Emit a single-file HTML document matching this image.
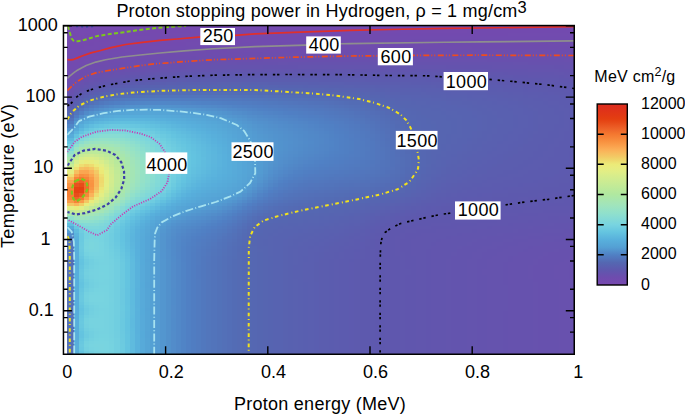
<!DOCTYPE html>
<html><head><meta charset="utf-8"><style>
html,body{margin:0;padding:0;background:#fff}
body{width:685px;height:414px;position:relative;overflow:hidden;font-family:"Liberation Sans",sans-serif}
#hm{position:absolute;left:67.3px;top:26px;width:507px;height:328px}
#hm i{position:absolute;top:0;height:100%;display:block}
svg{position:absolute;left:0;top:0}
text{font-family:"Liberation Sans",sans-serif;font-size:18px;fill:#000}
</style></head><body>
<div id="hm"><i style="left:0.00px;width:6.90px;background:linear-gradient(#7549af 0 6%,#7449af 0 7%,#744aaf 0 9%,#734aaf 0 11%,#724aaf 0 13%,#714baf 0 14%,#704bae 0 16%,#6f4cae 0 17%,#6d4dae 0 18%,#6b4eae 0 19%,#6950ae 0 20%,#6751ae 0 21%,#6453ae 0 22%,#6155ae 0 23%,#5e58ae 0 24%,#5b5caf 0 25%,#5861b0 0 26%,#5566b2 0 27%,#536cb5 0 28%,#5274bb 0 29%,#517cc1 0 30%,#5187c8 0 31%,#5395cf 0 32%,#55a3d5 0 33%,#57acda 0 34%,#5db8de 0 35%,#64c4e0 0 36%,#72cfe0 0 37%,#7fd7da 0 38%,#8edfce 0 39%,#9de3bf 0 40%,#a9e6ac 0 41%,#b5e99d 0 42%,#c5eb96 0 43%,#d5ed8d 0 44%,#e5ed82 0 45%,#eedd70 0 46%,#f6bf5f 0 47%,#faa550 0 48%,#f99241 0 49%,#f78638 0 50%,#f68035 0 51%,#f57f34 0 52%,#f78538 0 53%,#f99b48 0 54%,#f4c563 0 55%,#e4ee84 0 56%,#c2ea97 0 57%,#a7e6b0 0 58%,#90e0cc 0 59%,#78d4e0 0 60%,#61bfdf 0 61%,#57abda 0 62%,#549dd3 0 63%,#518bc9 0 64%,#507ec2 0 65%,#5276bc 0 66%,#5273ba 0 67%,#5272b9 0 68%,#5271b9 0 69%,#5371b9 0 70%,#536fb7 0 71%,#536db6 0 73%,#536fb7 0 74%,#5370b8 0 77%,#536fb7 0 78%,#536db6 0 79%,#536eb6 0 80%,#536fb7 0 81%,#5370b8 0 85%,#536eb7 0 86%,#536db6 0 87%,#536eb7 0 88%,#536fb8 0 89%,#5370b8 0 92%,#536fb7 0 93%,#536eb6 0 94%,#536db6 0 95%,#536fb7 0 96%,#5370b8 0 99%,#536db6 0)"></i><i style="left:6.30px;width:5.71px;background:linear-gradient(#7649b0 0 2%,#7549af 0 6%,#7449af 0 7%,#744aaf 0 9%,#734aaf 0 11%,#724aaf 0 12%,#714baf 0 13%,#704bae 0 14%,#6f4cae 0 15%,#6e4cae 0 16%,#6c4dae 0 17%,#6a4fae 0 18%,#6851ae 0 19%,#6553ae 0 20%,#6255ae 0 21%,#5f57ae 0 22%,#5c5baf 0 23%,#595fb0 0 24%,#5665b1 0 25%,#536cb5 0 26%,#5275bc 0 27%,#507ec3 0 28%,#518bc9 0 29%,#5398d0 0 30%,#55a3d5 0 31%,#57aad9 0 32%,#5bb4dd 0 33%,#63c2e0 0 34%,#71cee0 0 35%,#7fd7da 0 36%,#8cdecf 0 37%,#9ae3c2 0 38%,#a8e6ae 0 39%,#b7e99d 0 40%,#c7eb94 0 41%,#d7ed8c 0 42%,#e5ed82 0 43%,#eedf71 0 44%,#f5c060 0 45%,#faa34e 0 46%,#f78639 0 47%,#f06b2c 0 48%,#e9521e 0 49%,#e54413 0 50%,#e54312 0 51%,#e74d1a 0 52%,#ed6229 0 53%,#f68337 0 54%,#fab45a 0 55%,#e9eb7c 0 56%,#cbeb93 0 57%,#aee8a3 0 58%,#9ce3c0 0 59%,#89dcd2 0 60%,#78d4e0 0 61%,#68c7e0 0 62%,#5fbcde 0 63%,#5bb5dd 0 64%,#59b2dc 0 65%,#58afdc 0 66%,#58afdb 0 69%,#58aedb 0 70%,#57aedb 0 71%,#57addb 0 72%,#57adda 0 73%,#57addb 0 74%,#57aedb 0 77%,#57addb 0 80%,#57aedb 0 82%,#58aedb 0 84%,#57aedb 0 85%,#57addb 0 86%,#57adda 0 87%,#57addb 0 88%,#57aedb 0 89%,#58aedb 0 91%,#57aedb 0 93%,#57addb 0 95%,#57aedb 0 96%,#58aedb 0 97%,#58afdb 0 99%,#57adda 0)"></i><i style="left:11.41px;width:5.71px;background:linear-gradient(#7649b0 0 3%,#7549af 0 6%,#7449af 0 7%,#744aaf 0 8%,#734aaf 0 10%,#724aaf 0 11%,#714baf 0 12%,#704bae 0 13%,#6f4cae 0 14%,#6e4cae 0 15%,#6c4dae 0 16%,#6a4fae 0 17%,#6851ae 0 18%,#6553ae 0 19%,#6255ae 0 20%,#5e58ae 0 21%,#5c5caf 0 22%,#5960b0 0 23%,#5665b1 0 24%,#536db6 0 25%,#5276bd 0 26%,#5080c4 0 27%,#528ecb 0 28%,#549ed3 0 29%,#56a6d7 0 30%,#57aedb 0 31%,#5db8de 0 32%,#64c4e0 0 33%,#72cfe0 0 34%,#7fd8da 0 35%,#8ddecf 0 36%,#9ae3c2 0 37%,#a7e6b0 0 38%,#b4e99e 0 39%,#c6eb95 0 40%,#d7ed8c 0 41%,#e6ed81 0 42%,#eede71 0 43%,#f5c161 0 44%,#faa751 0 45%,#f88f3e 0 46%,#f47931 0 47%,#ec6128 0 48%,#e74d19 0 49%,#e44211 0 50%,#e54614 0 51%,#ea5923 0 52%,#f47830 0 53%,#f99c48 0 54%,#f1cd66 0 55%,#e1ee86 0 56%,#c4ea96 0 57%,#ace7a6 0 58%,#9ee3be 0 59%,#8fdfcd 0 60%,#81d9d8 0 61%,#77d3e0 0 62%,#6fcde0 0 63%,#6ccae0 0 64%,#6bcae0 0 66%,#6ccbe0 0 67%,#6dcbe0 0 68%,#6ccae0 0 69%,#6ac9e0 0 70%,#67c6e0 0 71%,#64c4e0 0 72%,#64c3e0 0 73%,#66c5e0 0 74%,#68c7e0 0 75%,#69c8e0 0 76%,#68c7e0 0 77%,#66c5e0 0 78%,#64c3e0 0 79%,#64c4e0 0 80%,#67c6e0 0 81%,#69c8e0 0 82%,#6ac9e0 0 84%,#68c7e0 0 85%,#65c5e0 0 86%,#63c3e0 0 87%,#65c4e0 0 88%,#67c7e0 0 89%,#69c8e0 0 90%,#6ac9e0 0 91%,#69c8e0 0 92%,#67c6e0 0 93%,#64c4e0 0 94%,#64c3e0 0 95%,#66c6e0 0 96%,#69c8e0 0 97%,#6bc9e0 0 98%,#69c8e0 0 99%,#64c4e0 0)"></i><i style="left:16.51px;width:5.71px;background:linear-gradient(#7649b0 0 2%,#7549af 0 6%,#744aaf 0 8%,#734aaf 0 9%,#724aaf 0 10%,#724baf 0 11%,#714baf 0 12%,#6f4bae 0 13%,#6e4cae 0 14%,#6c4dae 0 15%,#6a4fae 0 16%,#6850ae 0 17%,#6552ae 0 18%,#6355ae 0 19%,#5f57ae 0 20%,#5c5baf 0 21%,#595fb0 0 22%,#5664b1 0 23%,#536bb4 0 24%,#5274bb 0 25%,#507ec2 0 26%,#518bc9 0 27%,#5399d1 0 28%,#55a4d6 0 29%,#57adda 0 30%,#5cb7dd 0 31%,#63c2e0 0 32%,#6ecce0 0 33%,#7bd6dd 0 34%,#88dcd3 0 35%,#95e1c7 0 36%,#a2e4b9 0 37%,#ace7a6 0 38%,#bbe99a 0 39%,#cceb92 0 40%,#dded88 0 41%,#eaeb7c 0 42%,#efd46b 0 43%,#f7bb5e 0 44%,#faa650 0 45%,#f99341 0 46%,#f68437 0 47%,#f47830 0 48%,#f16f2d 0 49%,#f06d2c 0 50%,#f3762f 0 51%,#f78739 0 52%,#faa14d 0 53%,#f3c663 0 54%,#e8ec7d 0 55%,#d1ec8f 0 56%,#b9e99b 0 57%,#a8e6ae 0 58%,#9be3c1 0 59%,#8fe0cd 0 60%,#84dad6 0 61%,#7dd6dc 0 62%,#78d4e0 0 63%,#76d2e0 0 64%,#76d3e0 0 65%,#78d4e0 0 66%,#79d4df 0 67%,#79d5df 0 68%,#78d4e0 0 69%,#75d2e0 0 70%,#71cfe0 0 71%,#6ecce0 0 72%,#6dcbe0 0 73%,#6fcde0 0 74%,#72cfe0 0 75%,#73d0e0 0 76%,#72cfe0 0 77%,#6fcde0 0 78%,#6dcbe0 0 79%,#6ecce0 0 80%,#71cee0 0 81%,#74d1e0 0 82%,#75d2e0 0 83%,#75d1e0 0 84%,#72d0e0 0 85%,#6fcde0 0 86%,#6dcbe0 0 87%,#6ecce0 0 88%,#71cfe0 0 89%,#74d1e0 0 90%,#75d1e0 0 91%,#74d0e0 0 92%,#71cee0 0 93%,#6ecce0 0 94%,#6dcbe0 0 95%,#70cee0 0 96%,#74d1e0 0 97%,#75d2e0 0 98%,#74d0e0 0 99%,#6fcce0 0)"></i><i style="left:21.62px;width:5.71px;background:linear-gradient(#7649b0 0 2%,#7549af 0 5%,#7449af 0 6%,#744aaf 0 7%,#734aaf 0 9%,#724aaf 0 10%,#714baf 0 11%,#704bae 0 12%,#6f4cae 0 13%,#6d4dae 0 14%,#6b4eae 0 15%,#6950ae 0 16%,#6752ae 0 17%,#6454ae 0 18%,#6156ae 0 19%,#5e59ae 0 20%,#5b5daf 0 21%,#5862b1 0 22%,#5468b2 0 23%,#5370b8 0 24%,#517abf 0 25%,#5184c6 0 26%,#5292cd 0 27%,#54a0d4 0 28%,#56a9d8 0 29%,#59b1dc 0 30%,#60bddf 0 31%,#69c8e0 0 32%,#75d2e0 0 33%,#81d9d8 0 34%,#8ddfce 0 35%,#9ae2c2 0 36%,#a5e5b4 0 37%,#afe8a2 0 38%,#bdea99 0 39%,#cdec92 0 40%,#dced89 0 41%,#e8ec7e 0 42%,#eedc6f 0 43%,#f4c563 0 44%,#fab35a 0 45%,#faa54f 0 46%,#f99a47 0 47%,#f99442 0 48%,#f99241 0 49%,#f99644 0 50%,#faa14c 0 51%,#fab35a 0 52%,#f1ce67 0 53%,#eaeb7c 0 54%,#d8ed8b 0 55%,#c3ea97 0 56%,#afe8a1 0 57%,#a4e5b6 0 58%,#98e2c4 0 59%,#8edfce 0 60%,#85dad5 0 61%,#7ed7db 0 62%,#7ad5de 0 63%,#78d4e0 0 64%,#79d4df 0 65%,#7ad5de 0 66%,#7bd6dd 0 68%,#7ad5de 0 69%,#78d4e0 0 70%,#75d2e0 0 71%,#72cfe0 0 73%,#73d0e0 0 74%,#75d1e0 0 75%,#75d2e0 0 76%,#75d1e0 0 77%,#73d0e0 0 78%,#72cfe0 0 80%,#74d1e0 0 81%,#77d3e0 0 82%,#78d4e0 0 84%,#76d2e0 0 85%,#73d0e0 0 86%,#72cfe0 0 87%,#73d0e0 0 88%,#75d1e0 0 89%,#77d3e0 0 91%,#76d3e0 0 92%,#74d1e0 0 93%,#72cfe0 0 95%,#74d1e0 0 96%,#77d3e0 0 97%,#78d4e0 0 98%,#77d3e0 0 99%,#73d0e0 0)"></i><i style="left:26.72px;width:5.71px;background:linear-gradient(#7649b0 0 2%,#7549af 0 5%,#744aaf 0 7%,#734aaf 0 8%,#724aaf 0 9%,#724baf 0 10%,#704bae 0 11%,#6f4bae 0 12%,#6e4cae 0 13%,#6c4dae 0 14%,#6a4fae 0 15%,#6851ae 0 16%,#6552ae 0 17%,#6355ae 0 18%,#5f57ae 0 19%,#5c5baf 0 20%,#595fb0 0 21%,#5664b1 0 22%,#536bb4 0 23%,#5274bb 0 24%,#507ec2 0 25%,#518ac9 0 26%,#5398d0 0 27%,#55a3d6 0 28%,#57acda 0 29%,#5cb6dd 0 30%,#63c2e0 0 31%,#6ecce0 0 32%,#7bd5de 0 33%,#85dbd5 0 34%,#91e0cb 0 35%,#9ce3c0 0 36%,#a6e6b1 0 37%,#afe8a1 0 38%,#bcea9a 0 39%,#caeb93 0 40%,#d7ed8c 0 41%,#e4ee84 0 42%,#ebeb7a 0 43%,#eeda6e 0 44%,#f2ca65 0 45%,#f6bf60 0 46%,#f8b85c 0 47%,#f9b55a 0 48%,#f9b65b 0 49%,#f7bd5f 0 50%,#f2ca65 0 51%,#eedd70 0 52%,#e8ec7f 0 53%,#daed8a 0 54%,#c8eb94 0 55%,#b7e99c 0 56%,#aae6ab 0 57%,#9fe4bd 0 58%,#94e1c8 0 59%,#8bded0 0 60%,#84dad6 0 61%,#7ed7db 0 62%,#7ad5de 0 63%,#78d4e0 0 65%,#79d5df 0 66%,#7ad5de 0 68%,#7ad5df 0 69%,#79d4e0 0 70%,#77d3e0 0 71%,#75d2e0 0 72%,#74d1e0 0 73%,#75d2e0 0 74%,#76d2e0 0 77%,#75d2e0 0 78%,#74d1e0 0 79%,#75d1e0 0 80%,#76d3e0 0 81%,#77d4e0 0 82%,#78d4e0 0 84%,#77d3e0 0 85%,#75d2e0 0 86%,#75d1e0 0 87%,#75d2e0 0 88%,#76d2e0 0 89%,#77d3e0 0 92%,#76d2e0 0 93%,#75d1e0 0 94%,#75d2e0 0 95%,#76d3e0 0 96%,#78d4e0 0 97%,#79d4df 0 98%,#78d4e0 0 99%,#76d2e0 0)"></i><i style="left:31.83px;width:5.71px;background:linear-gradient(#7649b0 0 1%,#7549af 0 4%,#7449af 0 5%,#744aaf 0 6%,#734aaf 0 8%,#724aaf 0 9%,#714baf 0 10%,#704bae 0 11%,#6f4cae 0 12%,#6e4cae 0 13%,#6c4eae 0 14%,#694fae 0 15%,#6751ae 0 16%,#6453ae 0 17%,#6155ae 0 18%,#5e58ae 0 19%,#5b5caf 0 20%,#5861b0 0 21%,#5567b2 0 22%,#536fb7 0 23%,#5178be 0 24%,#5082c5 0 25%,#528fcb 0 26%,#549dd3 0 27%,#56a6d7 0 28%,#58afdb 0 29%,#5eb9de 0 30%,#65c5e0 0 31%,#72cfe0 0 32%,#7dd7dc 0 33%,#88dcd3 0 34%,#93e1c9 0 35%,#9de3bf 0 36%,#a6e5b2 0 37%,#aee7a4 0 38%,#b9e99c 0 39%,#c4eb96 0 40%,#cfec90 0 41%,#daed8a 0 42%,#e3ee84 0 43%,#e9ec7d 0 44%,#ece977 0 45%,#eedf71 0 46%,#eeda6e 0 47%,#efd96d 0 48%,#eedc70 0 49%,#ede575 0 50%,#e9eb7c 0 51%,#e3ee84 0 52%,#d7ed8c 0 53%,#caeb93 0 54%,#bbe99a 0 55%,#ade7a4 0 56%,#a4e5b6 0 57%,#99e2c3 0 58%,#90e0cc 0 59%,#87dcd3 0 60%,#81d8d9 0 61%,#7cd6dc 0 62%,#79d5df 0 63%,#77d3e0 0 66%,#78d4e0 0 70%,#77d3e0 0 71%,#76d3e0 0 72%,#76d2e0 0 73%,#76d3e0 0 75%,#77d3e0 0 76%,#76d3e0 0 78%,#76d2e0 0 79%,#76d3e0 0 80%,#77d3e0 0 81%,#77d4e0 0 82%,#78d4e0 0 84%,#77d3e0 0 86%,#76d2e0 0 87%,#76d3e0 0 88%,#77d3e0 0 92%,#76d3e0 0 93%,#76d2e0 0 94%,#76d3e0 0 95%,#77d4e0 0 96%,#78d4e0 0 97%,#79d4df 0 99%,#77d3e0 0)"></i><i style="left:36.94px;width:5.71px;background:linear-gradient(#7649b0 0 1%,#7549af 0 4%,#7449af 0 5%,#744aaf 0 6%,#734aaf 0 8%,#724baf 0 9%,#714baf 0 10%,#704bae 0 11%,#6f4cae 0 12%,#6d4dae 0 13%,#6b4eae 0 14%,#6950ae 0 15%,#6652ae 0 16%,#6354ae 0 17%,#6056ae 0 18%,#5d5aae 0 19%,#5a5eb0 0 20%,#5763b1 0 21%,#5469b3 0 22%,#5272b9 0 23%,#517bc0 0 24%,#5186c7 0 25%,#5293ce 0 26%,#54a1d4 0 27%,#56a9d8 0 28%,#59b1dc 0 29%,#5fbcde 0 30%,#68c7e0 0 31%,#74d1e0 0 32%,#7fd7da 0 33%,#89dcd2 0 34%,#93e1c9 0 35%,#9ce3c0 0 36%,#a4e5b4 0 37%,#ace7a8 0 38%,#b4e89e 0 39%,#bdea99 0 40%,#c6eb95 0 41%,#ceec91 0 42%,#d6ed8c 0 43%,#dced89 0 44%,#e1ee86 0 45%,#e4ee83 0 46%,#e5ed82 0 48%,#e4ee84 0 49%,#e0ee86 0 50%,#daed8a 0 51%,#d1ec8f 0 52%,#c7eb95 0 53%,#bbe99a 0 54%,#afe8a1 0 55%,#a6e5b2 0 56%,#9ce3c0 0 57%,#92e1ca 0 58%,#89ddd2 0 59%,#82d9d8 0 60%,#7dd6dc 0 61%,#79d5df 0 62%,#76d3e0 0 63%,#74d1e0 0 64%,#74d0e0 0 66%,#74d1e0 0 67%,#75d1e0 0 68%,#75d2e0 0 69%,#76d2e0 0 73%,#76d3e0 0 77%,#76d2e0 0 79%,#76d3e0 0 81%,#77d3e0 0 85%,#76d3e0 0 86%,#76d2e0 0 94%,#76d3e0 0 95%,#77d3e0 0 96%,#78d4e0 0 99%,#77d3e0 0)"></i><i style="left:42.04px;width:5.71px;background:linear-gradient(#7649b0 0 1%,#7549af 0 4%,#744aaf 0 6%,#734aaf 0 7%,#724aaf 0 8%,#714baf 0 9%,#704bae 0 10%,#6f4bae 0 11%,#6e4cae 0 12%,#6d4dae 0 13%,#6b4fae 0 14%,#6850ae 0 15%,#6652ae 0 16%,#6255ae 0 17%,#5f57ae 0 18%,#5c5baf 0 19%,#5960b0 0 20%,#5665b1 0 21%,#536bb5 0 22%,#5274bb 0 23%,#507dc2 0 24%,#5189c9 0 25%,#5397cf 0 26%,#55a3d5 0 27%,#57aad9 0 28%,#5ab3dd 0 29%,#61bedf 0 30%,#6ac9e0 0 31%,#75d2e0 0 32%,#7fd8da 0 33%,#89dcd2 0 34%,#92e0ca 0 35%,#9ae3c2 0 36%,#a2e5b8 0 37%,#a8e6ad 0 38%,#aee8a3 0 39%,#b5e99d 0 40%,#bdea9a 0 41%,#c3ea97 0 42%,#c8eb94 0 43%,#cdec92 0 44%,#d0ec90 0 45%,#d3ec8e 0 46%,#d4ec8e 0 47%,#d3ec8e 0 48%,#d1ec8f 0 49%,#cdec91 0 50%,#c8eb94 0 51%,#c0ea98 0 52%,#b7e99c 0 53%,#aee7a4 0 54%,#a5e5b2 0 55%,#9de3bf 0 56%,#93e1c9 0 57%,#89ddd1 0 58%,#81d9d8 0 59%,#7bd6dd 0 60%,#76d3e0 0 61%,#73d0e0 0 62%,#71cee0 0 63%,#6fcde0 0 66%,#70cde0 0 67%,#70cee0 0 68%,#71cfe0 0 69%,#72d0e0 0 70%,#73d0e0 0 71%,#74d1e0 0 73%,#75d1e0 0 77%,#74d1e0 0 83%,#75d1e0 0 84%,#74d1e0 0 94%,#75d1e0 0 95%,#75d2e0 0 96%,#76d2e0 0 97%,#76d3e0 0 99%,#75d2e0 0)"></i><i style="left:47.15px;width:5.71px;background:linear-gradient(#7649b0 0 1%,#7549af 0 3%,#7449af 0 4%,#744aaf 0 5%,#734aaf 0 7%,#724aaf 0 8%,#714baf 0 9%,#704bae 0 10%,#6f4cae 0 11%,#6e4cae 0 12%,#6c4dae 0 13%,#6a4fae 0 14%,#6851ae 0 15%,#6553ae 0 16%,#6255ae 0 17%,#5e58ae 0 18%,#5b5caf 0 19%,#5861b0 0 20%,#5566b2 0 21%,#536eb6 0 22%,#5276bd 0 23%,#507fc4 0 24%,#528cca 0 25%,#539ad1 0 26%,#55a4d6 0 27%,#57acda 0 28%,#5bb5dd 0 29%,#61bfdf 0 30%,#6ac9e0 0 31%,#75d2e0 0 32%,#7fd7da 0 33%,#88dcd3 0 34%,#90e0cc 0 35%,#98e2c4 0 36%,#9fe4bd 0 37%,#a5e5b4 0 38%,#aae6ab 0 39%,#aee8a3 0 40%,#b3e89f 0 41%,#b8e99c 0 42%,#bce99a 0 43%,#bfea99 0 44%,#c1ea97 0 45%,#c3ea97 0 47%,#c2ea97 0 48%,#c0ea98 0 49%,#bcea9a 0 50%,#b7e99c 0 51%,#b0e8a0 0 52%,#aae7aa 0 53%,#a3e5b6 0 54%,#9be3c1 0 55%,#92e0ca 0 56%,#88dcd2 0 57%,#80d8d9 0 58%,#7ad5df 0 59%,#73d0e0 0 60%,#6fcde0 0 61%,#6ccae0 0 62%,#6ac9e0 0 63%,#69c8e0 0 66%,#6ac9e0 0 67%,#6bcae0 0 68%,#6dcbe0 0 69%,#6ecce0 0 70%,#6fcde0 0 71%,#70cee0 0 72%,#71cee0 0 88%,#70cee0 0 93%,#71cee0 0 95%,#72cfe0 0 99%,#71cfe0 0)"></i><i style="left:52.26px;width:5.71px;background:linear-gradient(#7549af 0 3%,#7449af 0 4%,#744aaf 0 5%,#734aaf 0 7%,#724aaf 0 8%,#714baf 0 9%,#704bae 0 10%,#6f4cae 0 11%,#6e4cae 0 12%,#6c4eae 0 13%,#694fae 0 14%,#6751ae 0 15%,#6454ae 0 16%,#6156ae 0 17%,#5d59ae 0 18%,#5b5daf 0 19%,#5862b1 0 20%,#5467b2 0 21%,#536fb7 0 22%,#5178be 0 23%,#5081c5 0 24%,#528ecb 0 25%,#539cd2 0 26%,#55a5d7 0 27%,#57adda 0 28%,#5bb6dd 0 29%,#62c0df 0 30%,#6ac9e0 0 31%,#75d1e0 0 32%,#7ed7db 0 33%,#86dbd5 0 34%,#8ddfce 0 35%,#94e1c8 0 36%,#9be3c1 0 37%,#a0e4bb 0 38%,#a5e5b4 0 39%,#a8e6ad 0 40%,#abe7a8 0 41%,#aee8a3 0 42%,#b0e8a0 0 43%,#b2e89f 0 44%,#b4e89e 0 45%,#b4e99e 0 47%,#b3e89e 0 48%,#b1e8a0 0 49%,#aee7a4 0 50%,#aae7aa 0 51%,#a5e5b2 0 52%,#a0e4bc 0 53%,#98e2c4 0 54%,#90e0cc 0 55%,#87dbd4 0 56%,#7fd7da 0 57%,#78d4e0 0 58%,#71cee0 0 59%,#6ccae0 0 60%,#68c7e0 0 61%,#65c5e0 0 62%,#64c4e0 0 63%,#63c3e0 0 66%,#64c4e0 0 67%,#65c5e0 0 68%,#66c6e0 0 69%,#68c7e0 0 70%,#69c8e0 0 71%,#6ac9e0 0 72%,#6bcae0 0 80%,#6bc9e0 0 85%,#6bcae0 0 87%,#6bc9e0 0 89%,#6ac9e0 0 93%,#6bc9e0 0 94%,#6bcae0 0 95%,#6ccae0 0 97%,#6ccbe0 0 99%,#6ccae0 0)"></i><i style="left:57.36px;width:5.71px;background:linear-gradient(#7549af 0 3%,#744aaf 0 5%,#734aaf 0 6%,#724aaf 0 7%,#724baf 0 8%,#714baf 0 9%,#704bae 0 10%,#6f4cae 0 11%,#6d4dae 0 12%,#6b4eae 0 13%,#6950ae 0 14%,#6652ae 0 15%,#6354ae 0 16%,#6057ae 0 17%,#5d5aaf 0 18%,#5a5eb0 0 19%,#5763b1 0 20%,#5468b2 0 21%,#5370b8 0 22%,#5179bf 0 23%,#5083c6 0 24%,#5290cc 0 25%,#549dd3 0 26%,#55a6d7 0 27%,#57addb 0 28%,#5cb6dd 0 29%,#61c0df 0 30%,#6ac8e0 0 31%,#73d0e0 0 32%,#7cd6dd 0 33%,#83dad7 0 34%,#8addd1 0 35%,#91e0cb 0 36%,#96e2c6 0 37%,#9be3c1 0 38%,#a0e4bc 0 39%,#a3e5b7 0 40%,#a5e5b2 0 41%,#a8e6af 0 42%,#a9e6ac 0 43%,#aae7aa 0 44%,#abe7a9 0 46%,#aae7aa 0 47%,#a9e6ac 0 48%,#a7e6af 0 49%,#a5e5b4 0 50%,#a1e4ba 0 51%,#9be3c1 0 52%,#95e1c7 0 53%,#8ddfce 0 54%,#85dbd5 0 55%,#7dd7db 0 56%,#76d3e0 0 57%,#6fcde0 0 58%,#69c8e0 0 59%,#65c4e0 0 60%,#62c1df 0 61%,#61bfdf 0 62%,#60bddf 0 63%,#5fbcde 0 66%,#60bddf 0 67%,#60bedf 0 68%,#61bfdf 0 69%,#62c1df 0 70%,#63c2e0 0 71%,#64c3e0 0 72%,#64c4e0 0 80%,#64c3e0 0 85%,#64c4e0 0 87%,#64c3e0 0 89%,#63c3e0 0 93%,#64c3e0 0 94%,#64c4e0 0 97%,#65c4e0 0 98%,#64c4e0 0)"></i><i style="left:62.47px;width:5.71px;background:linear-gradient(#7549af 0 3%,#744aaf 0 5%,#734aaf 0 6%,#724aaf 0 7%,#714baf 0 9%,#704bae 0 10%,#6e4cae 0 11%,#6d4dae 0 12%,#6b4fae 0 13%,#6850ae 0 14%,#6553ae 0 15%,#6255ae 0 16%,#5f58ae 0 17%,#5c5baf 0 18%,#595fb0 0 19%,#5764b1 0 20%,#5469b3 0 21%,#5271b9 0 22%,#517ac0 0 23%,#5184c6 0 24%,#5291cd 0 25%,#549fd3 0 26%,#56a6d7 0 27%,#57addb 0 28%,#5cb6dd 0 29%,#61bfdf 0 30%,#68c7e0 0 31%,#71cfe0 0 32%,#7ad5df 0 33%,#80d8d9 0 34%,#87dbd4 0 35%,#8ddecf 0 36%,#92e0ca 0 37%,#96e2c6 0 38%,#9ae3c2 0 39%,#9de3bf 0 40%,#a0e4bc 0 41%,#a2e4b9 0 42%,#a3e5b7 0 43%,#a4e5b5 0 46%,#a3e5b6 0 47%,#a2e5b8 0 48%,#a0e4bc 0 49%,#9de3bf 0 50%,#98e2c4 0 51%,#92e1ca 0 52%,#8cded0 0 53%,#84dad6 0 54%,#7dd6dc 0 55%,#75d2e0 0 56%,#6ecce0 0 57%,#68c7e0 0 58%,#63c2e0 0 59%,#60bedf 0 60%,#5ebbde 0 61%,#5db8de 0 62%,#5cb7dd 0 63%,#5bb6dd 0 64%,#5bb5dd 0 66%,#5cb6dd 0 67%,#5cb7dd 0 68%,#5db8de 0 69%,#5db9de 0 70%,#5ebade 0 71%,#5ebbde 0 72%,#5fbbde 0 80%,#5ebbde 0 85%,#5fbbde 0 88%,#5ebbde 0 89%,#5ebade 0 92%,#5ebbde 0 93%,#5fbbde 0)"></i><i style="left:67.57px;width:5.71px;background:linear-gradient(#7549af 0 2%,#7449af 0 3%,#744aaf 0 4%,#734aaf 0 6%,#724aaf 0 7%,#714baf 0 8%,#704bae 0 9%,#6f4bae 0 10%,#6e4cae 0 11%,#6c4dae 0 12%,#6a4fae 0 13%,#6851ae 0 14%,#6553ae 0 15%,#6155ae 0 16%,#5e58ae 0 17%,#5c5caf 0 18%,#5960b0 0 19%,#5665b1 0 20%,#546ab4 0 21%,#5272ba 0 22%,#517bc0 0 23%,#5185c7 0 24%,#5292cd 0 25%,#549fd4 0 26%,#56a6d7 0 27%,#57addb 0 28%,#5bb5dd 0 29%,#60bedf 0 30%,#67c6e0 0 31%,#6fcde0 0 32%,#77d3e0 0 33%,#7dd7db 0 34%,#83dad7 0 35%,#88dcd2 0 36%,#8ddfce 0 37%,#91e0cb 0 38%,#95e1c7 0 39%,#97e2c5 0 40%,#9ae2c2 0 41%,#9ce3c0 0 42%,#9de3bf 0 43%,#9ee3be 0 44%,#9ee4be 0 45%,#9ee3be 0 46%,#9de3bf 0 47%,#9be3c1 0 48%,#99e2c3 0 49%,#95e1c7 0 50%,#91e0cb 0 51%,#8bded0 0 52%,#85dad5 0 53%,#7ed7db 0 54%,#77d3e0 0 55%,#6fcde0 0 56%,#68c7e0 0 57%,#62c1df 0 58%,#5fbcde 0 59%,#5db8de 0 60%,#5bb5dd 0 61%,#59b2dc 0 62%,#58b0dc 0 63%,#58afdc 0 65%,#58afdb 0 66%,#58afdc 0 68%,#58b0dc 0 70%,#58b1dc 0 71%,#59b1dc 0 72%,#59b2dc 0 80%,#59b1dc 0 86%,#59b2dc 0 87%,#59b1dc 0 94%,#59b2dc 0)"></i><i style="left:72.68px;width:5.71px;background:linear-gradient(#7549af 0 2%,#7449af 0 3%,#744aaf 0 4%,#734aaf 0 6%,#724aaf 0 7%,#714baf 0 8%,#704bae 0 9%,#6f4cae 0 10%,#6e4cae 0 11%,#6c4eae 0 12%,#6a4fae 0 13%,#6751ae 0 14%,#6453ae 0 15%,#6156ae 0 16%,#5e59ae 0 17%,#5b5caf 0 18%,#5961b0 0 19%,#5665b1 0 20%,#536bb4 0 21%,#5273ba 0 22%,#517cc1 0 23%,#5186c7 0 24%,#5293cd 0 25%,#54a0d4 0 26%,#56a6d7 0 27%,#57addb 0 28%,#5bb5dd 0 29%,#60bddf 0 30%,#65c5e0 0 31%,#6dcbe0 0 32%,#74d1e0 0 33%,#7bd5de 0 34%,#80d8da 0 35%,#84dad6 0 36%,#88dcd2 0 37%,#8cdecf 0 38%,#8fe0cd 0 39%,#92e0ca 0 40%,#94e1c8 0 41%,#95e1c7 0 42%,#97e2c5 0 44%,#98e2c4 0 45%,#97e2c5 0 46%,#96e2c6 0 47%,#95e1c7 0 48%,#92e1ca 0 49%,#8fe0cd 0 50%,#8bddd0 0 51%,#86dbd5 0 52%,#80d8da 0 53%,#79d5df 0 54%,#71cfe0 0 55%,#69c8e0 0 56%,#63c2e0 0 57%,#5fbcde 0 58%,#5cb6dd 0 59%,#59b2dc 0 60%,#58afdb 0 61%,#57adda 0 62%,#57abda 0 63%,#57abd9 0 64%,#57aad9 0 65%,#56aad9 0 73%,#57aad9 0 78%,#56aad9 0 80%,#57aad9 0 86%,#56aad9 0 88%,#57aad9 0 93%,#56aad9 0 95%,#57aad9 0 99%,#56aad9 0)"></i><i style="left:77.79px;width:5.71px;background:linear-gradient(#7549af 0 2%,#7449af 0 3%,#744aaf 0 4%,#734aaf 0 6%,#724aaf 0 7%,#714baf 0 8%,#704bae 0 9%,#6f4cae 0 10%,#6e4cae 0 11%,#6b4eae 0 12%,#6950ae 0 13%,#6652ae 0 14%,#6454ae 0 15%,#6056ae 0 16%,#5d59ae 0 17%,#5b5daf 0 18%,#5861b0 0 19%,#5566b1 0 20%,#536cb5 0 21%,#5274bb 0 22%,#517cc1 0 23%,#5187c7 0 24%,#5293ce 0 25%,#54a0d4 0 26%,#56a6d7 0 27%,#57adda 0 28%,#5ab4dd 0 29%,#5fbcde 0 30%,#63c3e0 0 31%,#6ac9e0 0 32%,#71cfe0 0 33%,#78d4e0 0 34%,#7cd6dd 0 35%,#80d8d9 0 36%,#84dad6 0 37%,#87dbd4 0 38%,#8addd1 0 39%,#8cdecf 0 40%,#8edfce 0 41%,#8fe0cc 0 42%,#91e0cb 0 44%,#92e0ca 0 45%,#91e0cb 0 47%,#8fe0cd 0 48%,#8ddecf 0 49%,#89ddd1 0 50%,#85dbd5 0 51%,#81d8d9 0 52%,#7bd6dd 0 53%,#74d1e0 0 54%,#6ccae0 0 55%,#64c4e0 0 56%,#60bddf 0 57%,#5cb6dd 0 58%,#58b1dc 0 59%,#57adda 0 60%,#57aad9 0 61%,#56a8d8 0 62%,#56a7d7 0 63%,#55a6d7 0 64%,#55a5d7 0 68%,#55a5d6 0 71%,#55a4d6 0 72%,#55a5d6 0 78%,#55a4d6 0 80%,#55a5d6 0 86%,#55a4d6 0 87%,#55a5d6 0 93%,#55a4d6 0 95%,#55a5d6 0 99%,#55a4d6 0)"></i><i style="left:82.89px;width:5.71px;background:linear-gradient(#7549af 0 2%,#744aaf 0 4%,#734aaf 0 5%,#724aaf 0 6%,#724baf 0 7%,#714baf 0 8%,#704bae 0 9%,#6f4cae 0 10%,#6d4dae 0 11%,#6b4eae 0 12%,#6950ae 0 13%,#6652ae 0 14%,#6354ae 0 15%,#6057ae 0 16%,#5d5aae 0 17%,#5b5daf 0 18%,#5862b0 0 19%,#5566b2 0 20%,#536cb5 0 21%,#5274bb 0 22%,#517dc1 0 23%,#5187c8 0 24%,#5293ce 0 25%,#549fd4 0 26%,#55a6d7 0 27%,#57acda 0 28%,#5ab3dd 0 29%,#5ebade 0 30%,#62c1df 0 31%,#68c7e0 0 32%,#6ecce0 0 33%,#74d0e0 0 34%,#78d4e0 0 35%,#7cd6dd 0 36%,#7fd7da 0 37%,#82d9d8 0 38%,#84dad6 0 39%,#86dbd4 0 40%,#88dcd3 0 41%,#89ddd2 0 42%,#8addd1 0 43%,#8bddd0 0 44%,#8bded0 0 46%,#8addd1 0 47%,#89ddd2 0 48%,#87dbd4 0 49%,#84dad6 0 50%,#80d8d9 0 51%,#7bd6dd 0 52%,#75d2e0 0 53%,#6ecce0 0 54%,#66c5e0 0 55%,#60bedf 0 56%,#5cb7dd 0 57%,#58b0dc 0 58%,#57acda 0 59%,#56a8d8 0 60%,#55a6d7 0 61%,#55a4d6 0 62%,#55a2d5 0 63%,#54a2d5 0 64%,#54a1d5 0 68%,#54a1d4 0)"></i><i style="left:88.00px;width:5.71px;background:linear-gradient(#7549af 0 2%,#744aaf 0 4%,#734aaf 0 5%,#724aaf 0 6%,#724baf 0 7%,#714baf 0 8%,#704bae 0 9%,#6f4cae 0 10%,#6d4dae 0 11%,#6b4eae 0 12%,#6850ae 0 13%,#6652ae 0 14%,#6355ae 0 15%,#5f57ae 0 16%,#5d5aaf 0 17%,#5a5eaf 0 18%,#5862b0 0 19%,#5566b2 0 20%,#536db6 0 21%,#5275bc 0 22%,#517dc2 0 23%,#5187c8 0 24%,#5293ce 0 25%,#549fd4 0 26%,#55a5d7 0 27%,#57abda 0 28%,#59b1dc 0 29%,#5db8de 0 30%,#61bfdf 0 31%,#65c5e0 0 32%,#6ac9e0 0 33%,#6fcde0 0 34%,#74d1e0 0 35%,#78d4e0 0 36%,#7ad5de 0 37%,#7dd6dc 0 38%,#7fd7db 0 39%,#80d8d9 0 40%,#82d9d8 0 41%,#83d9d7 0 42%,#84dad6 0 43%,#85dad6 0 44%,#85dad5 0 46%,#84dad6 0 47%,#83dad7 0 48%,#81d9d8 0 49%,#7ed7db 0 50%,#7bd5de 0 51%,#75d2e0 0 52%,#6ecce0 0 53%,#67c6e0 0 54%,#61bfdf 0 55%,#5db8de 0 56%,#59b1dc 0 57%,#57acda 0 58%,#56a7d8 0 59%,#55a4d6 0 60%,#54a1d5 0 61%,#549fd4 0 62%,#549dd2 0 63%,#539cd2 0 64%,#539bd2 0 65%,#539bd1 0 68%,#539bd2 0)"></i><i style="left:93.10px;width:5.71px;background:linear-gradient(#7549af 0 2%,#744aaf 0 3%,#734aaf 0 5%,#724aaf 0 6%,#714baf 0 8%,#704bae 0 9%,#6e4cae 0 10%,#6d4dae 0 11%,#6a4fae 0 12%,#6851ae 0 13%,#6553ae 0 14%,#6255ae 0 15%,#5f57ae 0 16%,#5d5aaf 0 17%,#5a5eb0 0 18%,#5862b1 0 19%,#5567b2 0 20%,#536db6 0 21%,#5275bc 0 22%,#517dc2 0 23%,#5187c8 0 24%,#5293cd 0 25%,#549ed3 0 26%,#55a5d6 0 27%,#57aad9 0 28%,#58b0dc 0 29%,#5cb6dd 0 30%,#5fbcde 0 31%,#63c2e0 0 32%,#67c6e0 0 33%,#6bcae0 0 34%,#6fcde0 0 35%,#73d0e0 0 36%,#76d2e0 0 37%,#78d4e0 0 38%,#7ad5df 0 39%,#7bd5de 0 40%,#7cd6dd 0 41%,#7dd7dc 0 42%,#7ed7db 0 44%,#7fd7da 0 45%,#7fd7db 0 46%,#7ed7db 0 47%,#7dd6dc 0 48%,#7bd6dd 0 49%,#78d4e0 0 50%,#74d1e0 0 51%,#6ecce0 0 52%,#67c7e0 0 53%,#62c0df 0 54%,#5db9de 0 55%,#59b2dc 0 56%,#57acda 0 57%,#56a8d8 0 58%,#55a4d6 0 59%,#54a0d4 0 60%,#549cd2 0 61%,#5399d0 0 62%,#5397cf 0 63%,#5395cf 0 64%,#5395ce 0 69%,#5395cf 0 71%,#5396cf 0)"></i><i style="left:98.21px;width:5.71px;background:linear-gradient(#7549af 0 1%,#7449af 0 2%,#744aaf 0 3%,#734aaf 0 5%,#724aaf 0 6%,#714baf 0 7%,#704bae 0 8%,#6f4bae 0 9%,#6e4cae 0 10%,#6c4dae 0 11%,#6a4fae 0 12%,#6851ae 0 13%,#6553ae 0 14%,#6255ae 0 15%,#5f57ae 0 16%,#5c5baf 0 17%,#5a5fb0 0 18%,#5763b1 0 19%,#5567b2 0 20%,#536eb6 0 21%,#5275bc 0 22%,#517dc2 0 23%,#5187c7 0 24%,#5292cd 0 25%,#549dd2 0 26%,#55a4d6 0 27%,#56a9d9 0 28%,#58aedb 0 29%,#5ab4dd 0 30%,#5ebade 0 31%,#61bfdf 0 32%,#64c4e0 0 33%,#68c7e0 0 34%,#6bcae0 0 35%,#6ecce0 0 36%,#71cee0 0 37%,#73d0e0 0 38%,#75d1e0 0 39%,#76d2e0 0 40%,#77d3e0 0 41%,#78d4e0 0 42%,#79d4df 0 45%,#79d4e0 0 46%,#78d4e0 0 47%,#76d3e0 0 48%,#74d1e0 0 49%,#70cee0 0 50%,#6ccae0 0 51%,#66c6e0 0 52%,#62c0df 0 53%,#5eb9de 0 54%,#5ab3dd 0 55%,#57addb 0 56%,#56a9d8 0 57%,#55a4d6 0 58%,#54a1d4 0 59%,#539cd2 0 60%,#5397d0 0 61%,#5394ce 0 62%,#5292cd 0 63%,#5291cc 0 64%,#5290cc 0 65%,#528fcc 0 68%,#5290cc 0 71%,#5291cc 0)"></i><i style="left:103.32px;width:5.71px;background:linear-gradient(#7549af 0 1%,#7449af 0 2%,#744aaf 0 3%,#734aaf 0 5%,#724aaf 0 6%,#714baf 0 7%,#704bae 0 8%,#6f4bae 0 9%,#6e4cae 0 10%,#6c4dae 0 11%,#6a4fae 0 12%,#6751ae 0 13%,#6553ae 0 14%,#6255ae 0 15%,#5e58ae 0 16%,#5c5baf 0 17%,#5a5fb0 0 18%,#5763b1 0 19%,#5567b2 0 20%,#536eb6 0 21%,#5275bc 0 22%,#517dc2 0 23%,#5186c7 0 24%,#5291cc 0 25%,#539cd2 0 26%,#55a3d6 0 27%,#56a8d8 0 28%,#57addb 0 29%,#59b2dc 0 30%,#5cb7dd 0 31%,#5fbcde 0 32%,#62c1df 0 33%,#64c4e0 0 34%,#68c7e0 0 35%,#6bc9e0 0 36%,#6dcbe0 0 37%,#6fcde0 0 38%,#70cee0 0 39%,#71cfe0 0 40%,#72cfe0 0 41%,#73d0e0 0 45%,#72cfe0 0 46%,#71cee0 0 47%,#6fcde0 0 48%,#6ccbe0 0 49%,#69c8e0 0 50%,#64c4e0 0 51%,#61bfdf 0 52%,#5eb9de 0 53%,#5ab4dd 0 54%,#58aedb 0 55%,#56aad9 0 56%,#55a5d7 0 57%,#54a1d5 0 58%,#549dd2 0 59%,#5397d0 0 60%,#5293ce 0 61%,#5290cc 0 62%,#528ecb 0 63%,#528dca 0 64%,#518cca 0 65%,#518bca 0 66%,#518bc9 0 68%,#518bca 0 70%,#518cca 0 72%,#528cca 0 80%,#518cca 0 85%,#528cca 0 89%,#518cca 0 93%,#528cca 0)"></i><i style="left:108.42px;width:5.71px;background:linear-gradient(#7549af 0 1%,#7449af 0 2%,#744aaf 0 3%,#734aaf 0 5%,#724aaf 0 6%,#714baf 0 7%,#704bae 0 8%,#6f4cae 0 9%,#6e4cae 0 10%,#6c4eae 0 11%,#6a4fae 0 12%,#6751ae 0 13%,#6453ae 0 14%,#6156ae 0 15%,#5e58ae 0 16%,#5c5caf 0 17%,#595fb0 0 18%,#5763b1 0 19%,#5467b2 0 20%,#536eb6 0 21%,#5275bc 0 22%,#517dc1 0 23%,#5186c7 0 24%,#5290cc 0 25%,#539bd1 0 26%,#55a2d5 0 27%,#56a7d8 0 28%,#57acda 0 29%,#58b0dc 0 30%,#5bb5dd 0 31%,#5ebade 0 32%,#60bedf 0 33%,#62c1df 0 34%,#65c4e0 0 35%,#67c6e0 0 36%,#69c8e0 0 37%,#6bcae0 0 38%,#6ccbe0 0 39%,#6dcbe0 0 40%,#6ecce0 0 44%,#6dcbe0 0 45%,#6ccbe0 0 46%,#6bc9e0 0 47%,#68c7e0 0 48%,#65c5e0 0 49%,#63c2e0 0 50%,#60bedf 0 51%,#5db9de 0 52%,#5ab4dd 0 53%,#58afdb 0 54%,#57abd9 0 55%,#56a6d7 0 56%,#55a3d5 0 57%,#549fd3 0 58%,#5399d0 0 59%,#5394ce 0 60%,#5290cc 0 61%,#528dcb 0 62%,#518bca 0 63%,#5189c9 0 64%,#5188c8 0 66%,#5187c8 0 67%,#5187c7 0 69%,#5187c8 0 71%,#5188c8 0)"></i><i style="left:113.53px;width:5.71px;background:linear-gradient(#7549af 0 1%,#7449af 0 2%,#744aaf 0 3%,#734aaf 0 5%,#724aaf 0 6%,#714baf 0 7%,#704bae 0 8%,#6f4cae 0 9%,#6e4cae 0 10%,#6c4eae 0 11%,#6950ae 0 12%,#6751ae 0 13%,#6454ae 0 14%,#6156ae 0 15%,#5e58ae 0 16%,#5c5caf 0 17%,#5960b0 0 18%,#5763b1 0 19%,#5468b2 0 20%,#536eb7 0 21%,#5275bc 0 22%,#517cc1 0 23%,#5185c7 0 24%,#528fcc 0 25%,#5399d1 0 26%,#54a2d5 0 27%,#56a6d7 0 28%,#57abd9 0 29%,#58afdb 0 30%,#5ab3dd 0 31%,#5db8de 0 32%,#5fbbde 0 33%,#61bfdf 0 34%,#63c2e0 0 35%,#64c4e0 0 36%,#66c6e0 0 37%,#68c7e0 0 38%,#69c8e0 0 39%,#6ac8e0 0 40%,#6ac9e0 0 43%,#69c8e0 0 44%,#68c8e0 0 45%,#67c6e0 0 46%,#65c5e0 0 47%,#63c3e0 0 48%,#61c0df 0 49%,#5fbcde 0 50%,#5db8de 0 51%,#5ab4dd 0 52%,#58afdc 0 53%,#57abda 0 54%,#56a8d8 0 55%,#55a4d6 0 56%,#54a1d4 0 57%,#539bd2 0 58%,#5396cf 0 59%,#5292cd 0 60%,#528ecb 0 61%,#518bc9 0 62%,#5189c8 0 63%,#5187c7 0 64%,#5185c7 0 65%,#5184c6 0 66%,#5084c6 0 67%,#5083c6 0 72%,#5084c6 0)"></i><i style="left:118.63px;width:5.71px;background:linear-gradient(#7549af 0 1%,#7449af 0 2%,#744aaf 0 3%,#734aaf 0 4%,#724aaf 0 5%,#724baf 0 6%,#714baf 0 7%,#704bae 0 8%,#6f4cae 0 9%,#6e4cae 0 10%,#6b4eae 0 11%,#6950ae 0 12%,#6652ae 0 13%,#6454ae 0 14%,#6156ae 0 15%,#5e59ae 0 16%,#5b5caf 0 17%,#5960b0 0 18%,#5764b1 0 19%,#5468b2 0 20%,#536eb7 0 21%,#5275bc 0 22%,#517cc1 0 23%,#5185c6 0 24%,#528ecb 0 25%,#5398d0 0 26%,#54a1d4 0 27%,#55a5d7 0 28%,#56a9d9 0 29%,#57addb 0 30%,#59b1dc 0 31%,#5bb5dd 0 32%,#5db9de 0 33%,#5fbcde 0 34%,#61bfdf 0 35%,#62c1df 0 36%,#63c3e0 0 37%,#64c4e0 0 38%,#65c5e0 0 39%,#66c6e0 0 43%,#65c5e0 0 44%,#64c4e0 0 45%,#63c2e0 0 46%,#62c0df 0 47%,#60bedf 0 48%,#5fbbde 0 49%,#5cb7dd 0 50%,#5ab4dd 0 51%,#58b0dc 0 52%,#57acda 0 53%,#56a9d8 0 54%,#55a5d7 0 55%,#54a2d5 0 56%,#549ed3 0 57%,#5398d0 0 58%,#5293ce 0 59%,#528fcc 0 60%,#518cca 0 61%,#5189c8 0 62%,#5186c7 0 63%,#5184c6 0 64%,#5083c5 0 65%,#5082c5 0 66%,#5081c4 0 67%,#5080c4 0)"></i><i style="left:123.74px;width:5.71px;background:linear-gradient(#7549af 0 1%,#744aaf 0 3%,#734aaf 0 4%,#724aaf 0 5%,#724baf 0 6%,#714baf 0 7%,#704bae 0 8%,#6f4cae 0 9%,#6d4cae 0 10%,#6b4eae 0 11%,#6950ae 0 12%,#6652ae 0 13%,#6354ae 0 14%,#6056ae 0 15%,#5d59ae 0 16%,#5b5caf 0 17%,#5960b0 0 18%,#5764b1 0 19%,#5468b2 0 20%,#536eb7 0 21%,#5275bc 0 22%,#517cc1 0 23%,#5084c6 0 24%,#528dcb 0 25%,#5397cf 0 26%,#54a0d4 0 27%,#55a4d6 0 28%,#56a8d8 0 29%,#57acda 0 30%,#58afdc 0 31%,#5ab3dd 0 32%,#5cb6dd 0 33%,#5eb9de 0 34%,#5fbcde 0 35%,#60bedf 0 36%,#62c0df 0 37%,#62c1df 0 38%,#63c2e0 0 39%,#63c3e0 0 42%,#63c2e0 0 43%,#62c1df 0 44%,#62c0df 0 45%,#61bedf 0 46%,#5fbcde 0 47%,#5ebade 0 48%,#5cb7dd 0 49%,#5ab4dd 0 50%,#58b0dc 0 51%,#57addb 0 52%,#56aad9 0 53%,#56a7d7 0 54%,#55a3d6 0 55%,#54a0d4 0 56%,#539bd2 0 57%,#5396cf 0 58%,#5291cd 0 59%,#528dcb 0 60%,#518ac9 0 61%,#5187c7 0 62%,#5184c6 0 63%,#5082c5 0 64%,#5080c4 0 65%,#507fc3 0 67%,#507ec2 0 69%,#507dc2 0)"></i><i style="left:128.85px;width:5.71px;background:linear-gradient(#7549af 0 1%,#744aaf 0 3%,#734aaf 0 4%,#724aaf 0 5%,#724baf 0 6%,#714baf 0 7%,#704bae 0 8%,#6f4cae 0 9%,#6d4dae 0 10%,#6b4eae 0 11%,#6950ae 0 12%,#6652ae 0 13%,#6354ae 0 14%,#6056ae 0 15%,#5d59ae 0 16%,#5b5caf 0 17%,#5960b0 0 18%,#5764b1 0 19%,#5468b2 0 20%,#536eb7 0 21%,#5275bc 0 22%,#517cc1 0 23%,#5083c6 0 24%,#528cca 0 25%,#5395cf 0 26%,#549ed3 0 27%,#55a3d6 0 28%,#56a7d7 0 29%,#57aad9 0 30%,#57aedb 0 31%,#58b1dc 0 32%,#5ab4dd 0 33%,#5cb7dd 0 34%,#5eb9de 0 35%,#5fbbde 0 36%,#60bddf 0 37%,#60bedf 0 38%,#61bfdf 0 39%,#61c0df 0 42%,#61bfdf 0 43%,#60bedf 0 44%,#60bddf 0 45%,#5fbbde 0 46%,#5db9de 0 47%,#5cb6dd 0 48%,#5ab4dd 0 49%,#58b1dc 0 50%,#57aedb 0 51%,#57abd9 0 52%,#56a8d8 0 53%,#55a5d6 0 54%,#54a2d5 0 55%,#549ed3 0 56%,#5399d0 0 57%,#5294ce 0 58%,#528fcc 0 59%,#518bca 0 60%,#5188c8 0 61%,#5185c6 0 62%,#5082c5 0 63%,#5080c4 0 64%,#507ec3 0 65%,#507dc2 0 66%,#517dc1 0 67%,#517cc1 0 68%,#517bc1 0 69%,#517bc0 0 73%,#517ac0 0 77%,#517bc0 0)"></i><i style="left:133.95px;width:5.71px;background:linear-gradient(#7549af 0 1%,#744aaf 0 2%,#734aaf 0 4%,#724aaf 0 5%,#714baf 0 7%,#704bae 0 8%,#6f4cae 0 9%,#6d4dae 0 10%,#6b4eae 0 11%,#6850ae 0 12%,#6652ae 0 13%,#6354ae 0 14%,#6057ae 0 15%,#5d59ae 0 16%,#5b5daf 0 17%,#5960b0 0 18%,#5664b1 0 19%,#5468b2 0 20%,#536eb7 0 21%,#5275bc 0 22%,#517bc0 0 23%,#5082c5 0 24%,#518bca 0 25%,#5294ce 0 26%,#549cd2 0 27%,#55a2d5 0 28%,#55a6d7 0 29%,#56a9d9 0 30%,#57acda 0 31%,#58afdb 0 32%,#59b2dc 0 33%,#5bb4dd 0 34%,#5cb6dd 0 35%,#5db8de 0 36%,#5ebade 0 37%,#5fbbde 0 38%,#5fbcde 0 40%,#60bddf 0 41%,#5fbcde 0 43%,#5fbbde 0 44%,#5ebade 0 45%,#5db8de 0 46%,#5cb6dd 0 47%,#5ab4dd 0 48%,#59b1dc 0 49%,#58aedb 0 50%,#57acda 0 51%,#56a9d9 0 52%,#56a6d7 0 53%,#55a3d6 0 54%,#54a1d4 0 55%,#539cd2 0 56%,#5396cf 0 57%,#5292cd 0 58%,#528dcb 0 59%,#5189c9 0 60%,#5186c7 0 61%,#5082c5 0 62%,#5080c4 0 63%,#507ec3 0 64%,#517dc1 0 65%,#517bc1 0 66%,#517bc0 0 67%,#517abf 0 68%,#5179bf 0 70%,#5178be 0)"></i><i style="left:139.06px;width:5.71px;background:linear-gradient(#7449af 0 1%,#744aaf 0 2%,#734aaf 0 4%,#724aaf 0 5%,#714baf 0 7%,#704bae 0 8%,#6e4cae 0 9%,#6d4dae 0 10%,#6a4fae 0 11%,#6850ae 0 12%,#6652ae 0 13%,#6354ae 0 14%,#6057ae 0 15%,#5d59ae 0 16%,#5b5daf 0 17%,#5960b0 0 18%,#5664b1 0 19%,#5468b2 0 20%,#536eb7 0 21%,#5274bb 0 22%,#517bc0 0 23%,#5082c5 0 24%,#518ac9 0 25%,#5292cd 0 26%,#539ad1 0 27%,#54a1d4 0 28%,#55a4d6 0 29%,#56a7d8 0 30%,#57aad9 0 31%,#57adda 0 32%,#58afdc 0 33%,#59b2dc 0 34%,#5ab4dd 0 35%,#5bb5dd 0 36%,#5cb7dd 0 37%,#5db8de 0 38%,#5db9de 0 39%,#5eb9de 0 42%,#5db9de 0 43%,#5db8de 0 44%,#5cb7dd 0 45%,#5bb5dd 0 46%,#5ab3dd 0 47%,#59b1dc 0 48%,#58afdb 0 49%,#57adda 0 50%,#57aad9 0 51%,#56a7d8 0 52%,#55a5d6 0 53%,#55a2d5 0 54%,#549fd3 0 55%,#5399d1 0 56%,#5394ce 0 57%,#528fcc 0 58%,#518bc9 0 59%,#5187c7 0 60%,#5083c6 0 61%,#5080c4 0 62%,#507ec3 0 63%,#517cc1 0 64%,#517bc0 0 65%,#517abf 0 66%,#5179be 0 67%,#5178be 0 68%,#5177bd 0 69%,#5277bd 0 70%,#5276bd 0 72%,#5276bc 0)"></i><i style="left:144.17px;width:5.71px;background:linear-gradient(#7449af 0 1%,#744aaf 0 2%,#734aaf 0 4%,#724aaf 0 5%,#714baf 0 6%,#704bae 0 7%,#6f4bae 0 8%,#6e4cae 0 9%,#6c4dae 0 10%,#6a4fae 0 11%,#6851ae 0 12%,#6553ae 0 13%,#6355ae 0 14%,#6057ae 0 15%,#5d5aae 0 16%,#5b5daf 0 17%,#5960b0 0 18%,#5664b1 0 19%,#5468b2 0 20%,#536eb7 0 21%,#5274bb 0 22%,#517ac0 0 23%,#5081c4 0 24%,#5189c8 0 25%,#5291cc 0 26%,#5398d0 0 27%,#549fd4 0 28%,#55a3d5 0 29%,#55a6d7 0 30%,#56a9d8 0 31%,#57abd9 0 32%,#57addb 0 33%,#58afdb 0 34%,#58b1dc 0 35%,#59b2dc 0 36%,#5ab4dd 0 37%,#5bb5dd 0 38%,#5bb6dd 0 39%,#5cb6dd 0 42%,#5bb6dd 0 43%,#5bb5dd 0 44%,#5ab4dd 0 45%,#5ab3dd 0 46%,#58b1dc 0 47%,#58afdb 0 48%,#57addb 0 49%,#57abd9 0 50%,#56a9d8 0 51%,#56a6d7 0 52%,#55a3d6 0 53%,#54a1d4 0 54%,#549cd2 0 55%,#5397cf 0 56%,#5292cd 0 57%,#528dca 0 58%,#5188c8 0 59%,#5184c6 0 60%,#5081c4 0 61%,#507ec3 0 62%,#517cc1 0 63%,#517ac0 0 64%,#5179bf 0 65%,#5178be 0 66%,#5277bd 0 67%,#5276bc 0 68%,#5275bc 0 69%,#5275bb 0 70%,#5274bb 0)"></i><i style="left:149.27px;width:5.71px;background:linear-gradient(#7449af 0 1%,#744aaf 0 2%,#734aaf 0 4%,#724aaf 0 5%,#714baf 0 6%,#704bae 0 7%,#6f4bae 0 8%,#6e4cae 0 9%,#6c4dae 0 10%,#6a4fae 0 11%,#6851ae 0 12%,#6553ae 0 13%,#6255ae 0 14%,#5f57ae 0 15%,#5d5aae 0 16%,#5b5daf 0 17%,#5961b0 0 18%,#5664b1 0 19%,#5468b2 0 20%,#536eb6 0 21%,#5274bb 0 22%,#517abf 0 23%,#5080c4 0 24%,#5187c8 0 25%,#528fcb 0 26%,#5396cf 0 27%,#549dd2 0 28%,#54a1d5 0 29%,#55a4d6 0 30%,#56a7d7 0 31%,#56a9d8 0 32%,#57abd9 0 33%,#57adda 0 34%,#58aedb 0 35%,#58afdc 0 36%,#58b1dc 0 37%,#59b2dc 0 39%,#5ab3dd 0 43%,#59b2dc 0 44%,#59b1dc 0 45%,#58b0dc 0 46%,#58afdb 0 47%,#57addb 0 48%,#57abda 0 49%,#56a9d9 0 50%,#56a7d7 0 51%,#55a5d6 0 52%,#54a2d5 0 53%,#549fd3 0 54%,#5399d1 0 55%,#5294ce 0 56%,#528fcb 0 57%,#518ac9 0 58%,#5185c7 0 59%,#5081c5 0 60%,#507ec3 0 61%,#517cc1 0 62%,#517abf 0 63%,#5178be 0 64%,#5277bd 0 65%,#5275bc 0 66%,#5274bb 0 68%,#5273ba 0 70%,#5272ba 0 71%,#5272b9 0)"></i><i style="left:154.38px;width:5.71px;background:linear-gradient(#7449af 0 1%,#744aaf 0 2%,#734aaf 0 4%,#724aaf 0 5%,#714baf 0 6%,#704bae 0 7%,#6f4bae 0 8%,#6e4cae 0 9%,#6c4dae 0 10%,#6a4fae 0 11%,#6851ae 0 12%,#6553ae 0 13%,#6255ae 0 14%,#5f57ae 0 15%,#5d5aae 0 16%,#5b5daf 0 17%,#5961b0 0 18%,#5664b1 0 19%,#5468b2 0 20%,#536eb6 0 21%,#5274bb 0 22%,#5179bf 0 23%,#507fc3 0 24%,#5186c7 0 25%,#528dcb 0 26%,#5294ce 0 27%,#539ad1 0 28%,#54a0d4 0 29%,#55a2d5 0 30%,#55a5d6 0 31%,#56a7d7 0 32%,#56a9d8 0 33%,#57aad9 0 34%,#57acda 0 35%,#57adda 0 36%,#57aedb 0 37%,#58afdb 0 38%,#58afdc 0 39%,#58b0dc 0 43%,#58afdc 0 44%,#58afdb 0 45%,#57aedb 0 46%,#57adda 0 47%,#57abda 0 48%,#56aad9 0 49%,#56a8d8 0 50%,#55a5d7 0 51%,#55a3d5 0 52%,#54a0d4 0 53%,#539bd2 0 54%,#5396cf 0 55%,#5290cc 0 56%,#518bca 0 57%,#5186c7 0 58%,#5082c5 0 59%,#507ec3 0 60%,#517cc1 0 61%,#517abf 0 62%,#5178be 0 63%,#5276bc 0 64%,#5274bb 0 65%,#5273ba 0 66%,#5272ba 0 67%,#5272b9 0 68%,#5371b9 0 69%,#5371b8 0 70%,#5370b8 0)"></i><i style="left:159.48px;width:5.71px;background:linear-gradient(#7449af 0 1%,#744aaf 0 2%,#734aaf 0 4%,#724aaf 0 5%,#714baf 0 6%,#704bae 0 7%,#6f4cae 0 8%,#6e4cae 0 9%,#6c4dae 0 10%,#6a4fae 0 11%,#6851ae 0 12%,#6553ae 0 13%,#6255ae 0 14%,#5f57ae 0 15%,#5d5aae 0 16%,#5b5daf 0 17%,#5961b0 0 18%,#5664b1 0 19%,#5468b2 0 20%,#536eb6 0 21%,#5273ba 0 22%,#5179bf 0 23%,#507ec3 0 24%,#5185c6 0 25%,#518bca 0 26%,#5292cd 0 27%,#5397d0 0 28%,#549dd2 0 29%,#54a1d4 0 30%,#55a3d5 0 31%,#55a5d6 0 32%,#56a6d7 0 33%,#56a8d8 0 34%,#56a9d9 0 35%,#57aad9 0 36%,#57abda 0 37%,#57acda 0 39%,#57adda 0 40%,#57addb 0 44%,#57adda 0 45%,#57acda 0 46%,#57abd9 0 47%,#56aad9 0 48%,#56a8d8 0 49%,#56a6d7 0 50%,#55a4d6 0 51%,#54a1d5 0 52%,#549dd3 0 53%,#5398d0 0 54%,#5292cd 0 55%,#528dca 0 56%,#5187c8 0 57%,#5083c5 0 58%,#507fc3 0 59%,#517cc1 0 60%,#5179bf 0 61%,#5277bd 0 62%,#5275bc 0 63%,#5273ba 0 64%,#5272ba 0 65%,#5371b9 0 66%,#5370b8 0 67%,#536fb8 0 68%,#536fb7 0 70%,#536eb7 0 73%,#536eb6 0 77%,#536eb7 0)"></i><i style="left:164.59px;width:5.71px;background:linear-gradient(#744aaf 0 2%,#734aaf 0 4%,#724aaf 0 5%,#714baf 0 6%,#704bae 0 7%,#6f4cae 0 8%,#6e4cae 0 9%,#6c4dae 0 10%,#6a4fae 0 11%,#6851ae 0 12%,#6553ae 0 13%,#6255ae 0 14%,#5f57ae 0 15%,#5d5aae 0 16%,#5b5daf 0 17%,#5961b0 0 18%,#5664b1 0 19%,#5468b2 0 20%,#536eb6 0 21%,#5273ba 0 22%,#5178be 0 23%,#507ec2 0 24%,#5083c6 0 25%,#518ac9 0 26%,#528fcc 0 27%,#5395ce 0 28%,#539ad1 0 29%,#549ed3 0 30%,#54a1d5 0 31%,#55a3d5 0 32%,#55a4d6 0 33%,#55a5d7 0 34%,#56a7d7 0 35%,#56a8d8 0 37%,#56a9d9 0 38%,#56aad9 0 39%,#57aad9 0 41%,#57abd9 0 44%,#57aad9 0 45%,#56aad9 0 46%,#56a9d8 0 47%,#56a8d8 0 48%,#56a6d7 0 49%,#55a4d6 0 50%,#55a2d5 0 51%,#549fd4 0 52%,#539ad1 0 53%,#5294ce 0 54%,#528ecb 0 55%,#5188c8 0 56%,#5083c6 0 57%,#507fc3 0 58%,#517bc1 0 59%,#5179be 0 60%,#5276bd 0 61%,#5274bb 0 62%,#5272ba 0 63%,#5371b8 0 64%,#5370b8 0 65%,#536fb7 0 66%,#536eb6 0 67%,#536db6 0 70%,#536db5 0 71%,#536cb5 0)"></i><i style="left:169.70px;width:5.71px;background:linear-gradient(#744aaf 0 2%,#734aaf 0 3%,#724aaf 0 5%,#714baf 0 6%,#704bae 0 7%,#6f4cae 0 8%,#6e4cae 0 9%,#6c4eae 0 10%,#6a4fae 0 11%,#6751ae 0 12%,#6553ae 0 13%,#6255ae 0 14%,#5f57ae 0 15%,#5d5aae 0 16%,#5b5daf 0 17%,#5961b0 0 18%,#5664b1 0 19%,#5468b2 0 20%,#536db6 0 21%,#5273ba 0 22%,#5178be 0 23%,#517dc2 0 24%,#5082c5 0 25%,#5188c8 0 26%,#528ecb 0 27%,#5293cd 0 28%,#5397d0 0 29%,#539bd2 0 30%,#549fd3 0 31%,#54a1d4 0 32%,#55a2d5 0 33%,#55a3d6 0 34%,#55a4d6 0 35%,#55a5d6 0 36%,#55a6d7 0 37%,#56a6d7 0 38%,#56a7d7 0 39%,#56a7d8 0 40%,#56a8d8 0 45%,#56a7d8 0 46%,#56a7d7 0 47%,#55a5d7 0 48%,#55a4d6 0 49%,#55a2d5 0 50%,#54a0d4 0 51%,#539bd1 0 52%,#5395cf 0 53%,#528fcc 0 54%,#5189c9 0 55%,#5084c6 0 56%,#507fc3 0 57%,#517bc0 0 58%,#5178be 0 59%,#5275bc 0 60%,#5273ba 0 61%,#5371b9 0 62%,#536fb7 0 63%,#536eb6 0 64%,#536db6 0 65%,#536cb5 0 67%,#536bb5 0 68%,#536bb4 0 69%,#546bb4 0)"></i><i style="left:174.80px;width:5.71px;background:linear-gradient(#744aaf 0 2%,#734aaf 0 3%,#724aaf 0 4%,#724baf 0 5%,#714baf 0 6%,#704bae 0 7%,#6f4cae 0 8%,#6e4cae 0 9%,#6c4eae 0 10%,#6a4fae 0 11%,#6751ae 0 12%,#6553ae 0 13%,#6255ae 0 14%,#5f57ae 0 15%,#5d5aaf 0 16%,#5b5daf 0 17%,#5861b0 0 18%,#5664b1 0 19%,#5468b2 0 20%,#536db6 0 21%,#5272ba 0 22%,#5177be 0 23%,#517cc1 0 24%,#5081c5 0 25%,#5187c7 0 26%,#518cca 0 27%,#5291cc 0 28%,#5395ce 0 29%,#5398d0 0 30%,#539bd2 0 31%,#549ed3 0 32%,#54a0d4 0 33%,#54a1d4 0 34%,#54a2d5 0 35%,#55a2d5 0 36%,#55a3d6 0 37%,#55a4d6 0 39%,#55a5d6 0 41%,#55a5d7 0 45%,#55a5d6 0 46%,#55a4d6 0 47%,#55a3d5 0 48%,#54a1d5 0 49%,#549fd4 0 50%,#539bd1 0 51%,#5395cf 0 52%,#5290cc 0 53%,#518ac9 0 54%,#5184c6 0 55%,#507fc3 0 56%,#517bc0 0 57%,#5178be 0 58%,#5275bb 0 59%,#5272b9 0 60%,#536fb8 0 61%,#536eb6 0 62%,#536cb5 0 63%,#536bb4 0 64%,#546ab4 0 65%,#546ab3 0 67%,#5469b3 0)"></i><i style="left:179.91px;width:5.71px;background:linear-gradient(#744aaf 0 2%,#734aaf 0 3%,#724aaf 0 4%,#724baf 0 5%,#714baf 0 6%,#704bae 0 7%,#6f4cae 0 8%,#6e4cae 0 9%,#6c4eae 0 10%,#6a4fae 0 11%,#6751ae 0 12%,#6553ae 0 13%,#6255ae 0 14%,#5f57ae 0 15%,#5d5aaf 0 16%,#5b5daf 0 17%,#5861b0 0 18%,#5664b1 0 19%,#5468b2 0 20%,#536db6 0 21%,#5272ba 0 22%,#5177bd 0 23%,#517cc1 0 24%,#5080c4 0 25%,#5185c7 0 26%,#518ac9 0 27%,#528ecb 0 28%,#5292cd 0 29%,#5396cf 0 30%,#5399d0 0 31%,#539bd1 0 32%,#549dd2 0 33%,#549ed3 0 34%,#549fd4 0 35%,#54a0d4 0 36%,#54a1d4 0 37%,#54a1d5 0 38%,#54a2d5 0 40%,#55a2d5 0 42%,#55a3d5 0 45%,#55a2d5 0 46%,#54a1d5 0 47%,#54a0d4 0 48%,#549dd3 0 49%,#5399d1 0 50%,#5395ce 0 51%,#5290cc 0 52%,#518ac9 0 53%,#5185c6 0 54%,#507fc4 0 55%,#517bc1 0 56%,#5178be 0 57%,#5274bb 0 58%,#5271b9 0 59%,#536eb7 0 60%,#536cb5 0 61%,#546ab4 0 62%,#5469b3 0 63%,#5468b2 0)"></i><i style="left:185.01px;width:5.71px;background:linear-gradient(#744aaf 0 2%,#734aaf 0 3%,#724aaf 0 4%,#724baf 0 5%,#714baf 0 6%,#704bae 0 7%,#6f4cae 0 8%,#6e4cae 0 9%,#6c4eae 0 10%,#694fae 0 11%,#6751ae 0 12%,#6553ae 0 13%,#6255ae 0 14%,#5f57ae 0 15%,#5d5aaf 0 16%,#5b5daf 0 17%,#5861b0 0 18%,#5664b1 0 19%,#5468b2 0 20%,#536db6 0 21%,#5272b9 0 22%,#5276bd 0 23%,#517bc0 0 24%,#507fc3 0 25%,#5084c6 0 26%,#5188c8 0 27%,#528dca 0 28%,#5290cc 0 29%,#5293ce 0 30%,#5396cf 0 31%,#5398d0 0 32%,#539ad1 0 33%,#539bd2 0 34%,#549cd2 0 35%,#549dd3 0 36%,#549ed3 0 37%,#549fd3 0 38%,#549fd4 0 40%,#54a0d4 0 45%,#549fd3 0 46%,#549dd3 0 47%,#539ad1 0 48%,#5397d0 0 49%,#5293ce 0 50%,#528fcb 0 51%,#518ac9 0 52%,#5185c6 0 53%,#5080c4 0 54%,#517cc1 0 55%,#5178be 0 56%,#5274bb 0 57%,#5371b9 0 58%,#536eb6 0 59%,#536bb5 0 60%,#5469b3 0 61%,#5468b2 0 62%,#5467b2 0 63%,#5567b2 0 65%,#5566b2 0 67%,#5567b2 0)"></i><i style="left:190.12px;width:5.71px;background:linear-gradient(#744aaf 0 1%,#734aaf 0 3%,#724aaf 0 4%,#714baf 0 6%,#704bae 0 7%,#6f4cae 0 8%,#6d4cae 0 9%,#6b4eae 0 10%,#694fae 0 11%,#6751ae 0 12%,#6553ae 0 13%,#6255ae 0 14%,#5f57ae 0 15%,#5d5aaf 0 16%,#5b5daf 0 17%,#5961b0 0 18%,#5664b1 0 19%,#5468b2 0 20%,#536cb5 0 21%,#5271b9 0 22%,#5276bc 0 23%,#517ac0 0 24%,#507ec3 0 25%,#5082c5 0 26%,#5187c7 0 27%,#518bc9 0 28%,#528ecb 0 29%,#5291cd 0 30%,#5294ce 0 31%,#5396cf 0 32%,#5397d0 0 33%,#5399d0 0 34%,#539ad1 0 36%,#539bd2 0 38%,#539cd2 0 43%,#539bd2 0 44%,#539bd1 0 45%,#5399d1 0 46%,#5397d0 0 47%,#5395ce 0 48%,#5291cd 0 49%,#528dcb 0 50%,#5189c8 0 51%,#5184c6 0 52%,#5080c4 0 53%,#517cc1 0 54%,#5178be 0 55%,#5275bb 0 56%,#5271b9 0 57%,#536eb7 0 58%,#536bb5 0 59%,#5469b3 0 60%,#5467b2 0 61%,#5567b2 0 62%,#5566b2 0 63%,#5566b1 0 64%,#5665b1 0 68%,#5666b1 0 69%,#5566b1 0)"></i><i style="left:195.23px;width:5.71px;background:linear-gradient(#744aaf 0 1%,#734aaf 0 3%,#724aaf 0 4%,#714baf 0 6%,#704bae 0 7%,#6f4cae 0 8%,#6d4dae 0 9%,#6b4eae 0 10%,#6950ae 0 11%,#6751ae 0 12%,#6453ae 0 13%,#6255ae 0 14%,#5f57ae 0 15%,#5d5aaf 0 16%,#5b5daf 0 17%,#5961b0 0 18%,#5764b1 0 19%,#5467b2 0 20%,#536cb5 0 21%,#5371b9 0 22%,#5275bc 0 23%,#5179bf 0 24%,#507dc2 0 25%,#5081c5 0 26%,#5185c7 0 27%,#5189c9 0 28%,#528dca 0 29%,#5290cc 0 30%,#5292cd 0 31%,#5294ce 0 32%,#5395cf 0 33%,#5397cf 0 34%,#5398d0 0 36%,#5399d0 0 41%,#5398d0 0 43%,#5397cf 0 44%,#5396cf 0 45%,#5294ce 0 46%,#5292cd 0 47%,#528fcb 0 48%,#518cca 0 49%,#5188c8 0 50%,#5084c6 0 51%,#5080c4 0 52%,#517cc1 0 53%,#5179bf 0 54%,#5275bc 0 55%,#5272ba 0 56%,#536fb7 0 57%,#536cb5 0 58%,#546ab3 0 59%,#5468b2 0 60%,#5567b2 0 61%,#5566b1 0 62%,#5665b1 0 65%,#5664b1 0 67%,#5665b1 0)"></i><i style="left:200.33px;width:5.71px;background:linear-gradient(#744aaf 0 1%,#734aaf 0 3%,#724aaf 0 4%,#714baf 0 6%,#704bae 0 7%,#6f4cae 0 8%,#6d4dae 0 9%,#6b4eae 0 10%,#6950ae 0 11%,#6751ae 0 12%,#6453ae 0 13%,#6255ae 0 14%,#5f57ae 0 15%,#5d5aaf 0 16%,#5b5daf 0 17%,#5960b0 0 18%,#5764b1 0 19%,#5567b2 0 20%,#536bb5 0 21%,#5370b8 0 22%,#5274bb 0 23%,#5179be 0 24%,#517cc1 0 25%,#5080c4 0 26%,#5184c6 0 27%,#5188c8 0 28%,#518bca 0 29%,#528ecb 0 30%,#5290cc 0 31%,#5292cd 0 32%,#5294ce 0 33%,#5395ce 0 34%,#5396cf 0 36%,#5397cf 0 38%,#5396cf 0 41%,#5395ce 0 42%,#5394ce 0 43%,#5293cd 0 44%,#5291cd 0 45%,#528fcc 0 46%,#528dca 0 47%,#518ac9 0 48%,#5187c7 0 49%,#5083c6 0 50%,#507fc4 0 51%,#517cc1 0 52%,#5179bf 0 53%,#5276bd 0 54%,#5273ba 0 55%,#5370b8 0 56%,#536db6 0 57%,#546bb4 0 58%,#5468b2 0 59%,#5567b2 0 60%,#5566b1 0 61%,#5665b1 0 63%,#5664b1 0 64%,#5764b1 0 70%,#5664b1 0)"></i><i style="left:205.44px;width:5.71px;background:linear-gradient(#744aaf 0 1%,#734aaf 0 3%,#724aaf 0 4%,#714baf 0 6%,#704bae 0 7%,#6f4cae 0 8%,#6d4dae 0 9%,#6b4eae 0 10%,#6950ae 0 11%,#6751ae 0 12%,#6453ae 0 13%,#6255ae 0 14%,#5f57ae 0 15%,#5d5aaf 0 16%,#5b5daf 0 17%,#5960b0 0 18%,#5764b1 0 19%,#5567b2 0 20%,#546bb4 0 21%,#536fb8 0 22%,#5274bb 0 23%,#5178be 0 24%,#517cc1 0 25%,#507fc3 0 26%,#5083c5 0 27%,#5187c7 0 28%,#518ac9 0 29%,#528cca 0 30%,#528fcb 0 31%,#5291cc 0 32%,#5292cd 0 33%,#5293ce 0 34%,#5294ce 0 35%,#5394ce 0 36%,#5395ce 0 38%,#5394ce 0 39%,#5294ce 0 40%,#5293cd 0 41%,#5292cd 0 42%,#5291cc 0 43%,#528fcc 0 44%,#528dcb 0 45%,#518bca 0 46%,#5189c8 0 47%,#5186c7 0 48%,#5083c5 0 49%,#507fc4 0 50%,#517dc1 0 51%,#517abf 0 52%,#5277bd 0 53%,#5274bb 0 54%,#5271b9 0 55%,#536eb7 0 56%,#536cb5 0 57%,#5469b3 0 58%,#5468b2 0 59%,#5566b2 0 60%,#5665b1 0 62%,#5664b1 0 63%,#5764b1 0 64%,#5763b1 0)"></i><i style="left:210.54px;width:5.71px;background:linear-gradient(#744aaf 0 1%,#734aaf 0 3%,#724aaf 0 4%,#714baf 0 5%,#704bae 0 7%,#6f4cae 0 8%,#6d4dae 0 9%,#6b4eae 0 10%,#6950ae 0 11%,#6752ae 0 12%,#6453ae 0 13%,#6255ae 0 14%,#5f57ae 0 15%,#5d5aaf 0 16%,#5b5daf 0 17%,#5960b0 0 18%,#5763b1 0 19%,#5567b2 0 20%,#546ab4 0 21%,#536fb7 0 22%,#5273ba 0 23%,#5177bd 0 24%,#517bc0 0 25%,#507ec3 0 26%,#5082c5 0 27%,#5185c7 0 28%,#5188c8 0 29%,#518bca 0 30%,#528dcb 0 31%,#528fcc 0 32%,#5291cc 0 33%,#5292cd 0 35%,#5293cd 0 38%,#5292cd 0 39%,#5291cd 0 40%,#5290cc 0 41%,#528fcc 0 42%,#528ecb 0 43%,#528cca 0 44%,#518ac9 0 45%,#5188c8 0 46%,#5185c7 0 47%,#5082c5 0 48%,#507fc3 0 49%,#517dc2 0 50%,#517ac0 0 51%,#5177be 0 52%,#5275bc 0 53%,#5272ba 0 54%,#536fb8 0 55%,#536db6 0 56%,#546bb4 0 57%,#5469b2 0 58%,#5567b2 0 59%,#5566b1 0 60%,#5665b1 0 61%,#5664b1 0 62%,#5764b1 0 63%,#5763b1 0)"></i><i style="left:215.65px;width:5.71px;background:linear-gradient(#744aaf 0 1%,#734aaf 0 3%,#724aaf 0 4%,#714baf 0 5%,#704bae 0 7%,#6e4cae 0 8%,#6d4dae 0 9%,#6b4eae 0 10%,#6950ae 0 11%,#6752ae 0 12%,#6453ae 0 13%,#6255ae 0 14%,#5f57ae 0 15%,#5d5aaf 0 16%,#5b5daf 0 17%,#5960b0 0 18%,#5763b1 0 19%,#5566b2 0 20%,#546ab3 0 21%,#536eb7 0 22%,#5272ba 0 23%,#5276bd 0 24%,#517ac0 0 25%,#507dc2 0 26%,#5080c4 0 27%,#5184c6 0 28%,#5187c8 0 29%,#518ac9 0 30%,#518cca 0 31%,#528ecb 0 32%,#528fcc 0 33%,#5290cc 0 34%,#5291cc 0 35%,#5291cd 0 37%,#5291cc 0 38%,#5290cc 0 39%,#528fcc 0 40%,#528ecb 0 41%,#528dca 0 42%,#518bca 0 43%,#5189c9 0 44%,#5187c8 0 45%,#5185c6 0 46%,#5082c5 0 47%,#507fc4 0 48%,#507dc2 0 49%,#517bc0 0 50%,#5178be 0 51%,#5276bc 0 52%,#5273ba 0 53%,#5371b8 0 54%,#536eb7 0 55%,#536cb5 0 56%,#546ab3 0 57%,#5468b2 0 58%,#5567b2 0 59%,#5566b1 0 60%,#5665b1 0 61%,#5764b1 0 62%,#5763b1 0 65%,#5862b1 0 67%,#5862b0 0)"></i><i style="left:220.76px;width:5.71px;background:linear-gradient(#744aaf 0 1%,#734aaf 0 3%,#724aaf 0 4%,#714baf 0 5%,#704bae 0 6%,#6f4bae 0 7%,#6e4cae 0 8%,#6d4dae 0 9%,#6b4eae 0 10%,#6950ae 0 11%,#6652ae 0 12%,#6453ae 0 13%,#6255ae 0 14%,#5f57ae 0 15%,#5d5aaf 0 16%,#5b5daf 0 17%,#5960b0 0 18%,#5763b1 0 19%,#5566b2 0 20%,#5469b3 0 21%,#536eb6 0 22%,#5272b9 0 23%,#5276bc 0 24%,#5179bf 0 25%,#517dc1 0 26%,#507fc4 0 27%,#5083c5 0 28%,#5186c7 0 29%,#5188c8 0 30%,#518bc9 0 31%,#528cca 0 32%,#528ecb 0 33%,#528fcb 0 34%,#528fcc 0 35%,#5290cc 0 36%,#528fcc 0 38%,#528ecb 0 39%,#528dcb 0 40%,#528cca 0 41%,#518bc9 0 42%,#5189c8 0 43%,#5187c7 0 44%,#5185c6 0 45%,#5082c5 0 46%,#5080c4 0 47%,#507dc2 0 48%,#517bc0 0 49%,#5179bf 0 50%,#5277bd 0 51%,#5274bb 0 52%,#5272b9 0 53%,#536fb8 0 54%,#536db6 0 55%,#546bb4 0 56%,#5469b3 0 57%,#5467b2 0 58%,#5566b2 0 59%,#5665b1 0 60%,#5664b1 0 61%,#5764b1 0 62%,#5763b1 0 64%,#5862b1 0 65%,#5862b0 0 67%,#5861b0 0)"></i><i style="left:225.86px;width:5.71px;background:linear-gradient(#744aaf 0 1%,#734aaf 0 3%,#724aaf 0 4%,#714baf 0 5%,#704bae 0 6%,#6f4bae 0 7%,#6e4cae 0 8%,#6d4dae 0 9%,#6b4eae 0 10%,#6950ae 0 11%,#6652ae 0 12%,#6453ae 0 13%,#6155ae 0 14%,#5f57ae 0 15%,#5d5aae 0 16%,#5b5daf 0 17%,#5960b0 0 18%,#5763b1 0 19%,#5566b1 0 20%,#5469b3 0 21%,#536db6 0 22%,#5271b9 0 23%,#5275bc 0 24%,#5179be 0 25%,#517cc1 0 26%,#507fc3 0 27%,#5082c5 0 28%,#5185c6 0 29%,#5187c8 0 30%,#5189c9 0 31%,#518bca 0 32%,#528cca 0 33%,#528dcb 0 34%,#528ecb 0 37%,#528dcb 0 38%,#528dca 0 39%,#518cca 0 40%,#518ac9 0 41%,#5189c8 0 42%,#5187c7 0 43%,#5185c6 0 44%,#5082c5 0 45%,#5080c4 0 46%,#507ec2 0 47%,#517cc1 0 48%,#517abf 0 49%,#5177be 0 50%,#5275bc 0 51%,#5273ba 0 52%,#5371b8 0 53%,#536eb7 0 54%,#536cb5 0 55%,#546ab4 0 56%,#5468b2 0 57%,#5567b2 0 58%,#5566b1 0 59%,#5665b1 0 60%,#5664b1 0 61%,#5763b1 0 63%,#5862b1 0 64%,#5862b0 0 65%,#5861b0 0 68%,#5961b0 0 73%,#5960b0 0 77%,#5961b0 0)"></i><i style="left:230.97px;width:5.71px;background:linear-gradient(#744aaf 0 1%,#734aaf 0 3%,#724aaf 0 4%,#714baf 0 5%,#704bae 0 6%,#6f4bae 0 7%,#6e4cae 0 8%,#6d4dae 0 9%,#6b4eae 0 10%,#6950ae 0 11%,#6652ae 0 12%,#6454ae 0 13%,#6155ae 0 14%,#5f57ae 0 15%,#5d5aae 0 16%,#5b5daf 0 17%,#5960b0 0 18%,#5763b1 0 19%,#5666b1 0 20%,#5469b2 0 21%,#536db6 0 22%,#5371b9 0 23%,#5274bb 0 24%,#5178be 0 25%,#517bc0 0 26%,#507ec2 0 27%,#5080c4 0 28%,#5083c6 0 29%,#5186c7 0 30%,#5188c8 0 31%,#518ac9 0 32%,#518bc9 0 33%,#518cca 0 34%,#528cca 0 35%,#528dca 0 36%,#528cca 0 37%,#518cca 0 38%,#518bc9 0 39%,#518ac9 0 40%,#5188c8 0 41%,#5187c7 0 42%,#5185c6 0 43%,#5083c5 0 44%,#5081c4 0 45%,#507fc3 0 46%,#517dc1 0 47%,#517bc0 0 48%,#5178be 0 49%,#5276bd 0 50%,#5274bb 0 51%,#5272b9 0 52%,#5370b8 0 53%,#536db6 0 54%,#536bb5 0 55%,#5469b3 0 56%,#5468b2 0 57%,#5567b2 0 58%,#5666b1 0 59%,#5665b1 0 60%,#5764b1 0 61%,#5763b1 0 62%,#5762b1 0 63%,#5862b0 0 64%,#5861b0 0 66%,#5961b0 0 67%,#5960b0 0)"></i><i style="left:236.08px;width:5.71px;background:linear-gradient(#744aaf 0 1%,#734aaf 0 3%,#724aaf 0 4%,#714baf 0 5%,#704bae 0 6%,#6f4bae 0 7%,#6e4cae 0 8%,#6d4dae 0 9%,#6b4fae 0 10%,#6950ae 0 11%,#6652ae 0 12%,#6454ae 0 13%,#6155ae 0 14%,#5f57ae 0 15%,#5d5aae 0 16%,#5b5daf 0 17%,#5960b0 0 18%,#5762b1 0 19%,#5665b1 0 20%,#5468b2 0 21%,#536cb5 0 22%,#5370b8 0 23%,#5274bb 0 24%,#5177bd 0 25%,#517ac0 0 26%,#517dc2 0 27%,#507fc4 0 28%,#5082c5 0 29%,#5185c6 0 30%,#5187c7 0 31%,#5188c8 0 32%,#518ac9 0 34%,#518bc9 0 35%,#518bca 0 36%,#518bc9 0 37%,#518ac9 0 38%,#5189c9 0 39%,#5188c8 0 40%,#5187c7 0 41%,#5185c7 0 42%,#5083c6 0 43%,#5081c5 0 44%,#507fc3 0 45%,#507dc2 0 46%,#517bc1 0 47%,#5179bf 0 48%,#5177bd 0 49%,#5275bc 0 50%,#5273ba 0 51%,#5371b9 0 52%,#536fb7 0 53%,#536db6 0 54%,#546bb4 0 55%,#5469b3 0 56%,#5467b2 0 57%,#5566b2 0 58%,#5665b1 0 59%,#5664b1 0 60%,#5763b1 0 62%,#5862b1 0 63%,#5861b0 0 65%,#5961b0 0 66%,#5960b0 0 70%,#595fb0 0 72%,#5a5fb0 0 78%,#595fb0 0)"></i><i style="left:241.18px;width:5.71px;background:linear-gradient(#744aaf 0 1%,#734aaf 0 3%,#724aaf 0 4%,#714baf 0 5%,#704bae 0 6%,#6f4bae 0 7%,#6e4cae 0 8%,#6d4dae 0 9%,#6b4fae 0 10%,#6850ae 0 11%,#6652ae 0 12%,#6454ae 0 13%,#6155ae 0 14%,#5f57ae 0 15%,#5d5aae 0 16%,#5b5daf 0 17%,#595fb0 0 18%,#5862b1 0 19%,#5665b1 0 20%,#5468b2 0 21%,#536cb5 0 22%,#536fb8 0 23%,#5273ba 0 24%,#5276bd 0 25%,#5179bf 0 26%,#517cc1 0 27%,#507ec3 0 28%,#5081c4 0 29%,#5083c6 0 30%,#5185c7 0 31%,#5187c7 0 32%,#5188c8 0 33%,#5189c8 0 34%,#5189c9 0 35%,#518ac9 0 36%,#5189c9 0 37%,#5189c8 0 38%,#5188c8 0 39%,#5187c7 0 40%,#5185c7 0 41%,#5084c6 0 42%,#5082c5 0 43%,#5080c4 0 44%,#507ec3 0 45%,#517cc1 0 46%,#517ac0 0 47%,#5178be 0 48%,#5276bd 0 49%,#5274bb 0 50%,#5272ba 0 51%,#5370b8 0 52%,#536eb7 0 53%,#536cb5 0 54%,#546ab4 0 55%,#5468b2 0 56%,#5567b2 0 57%,#5566b1 0 58%,#5665b1 0 59%,#5764b1 0 60%,#5763b1 0 61%,#5862b1 0 62%,#5862b0 0 63%,#5861b0 0 64%,#5961b0 0 65%,#5960b0 0 67%,#595fb0 0 68%,#5a5fb0 0)"></i><i style="left:246.29px;width:5.71px;background:linear-gradient(#744aaf 0 1%,#734aaf 0 3%,#724aaf 0 4%,#714baf 0 5%,#704bae 0 6%,#6f4cae 0 7%,#6e4cae 0 8%,#6c4dae 0 9%,#6b4fae 0 10%,#6850ae 0 11%,#6652ae 0 12%,#6454ae 0 13%,#6155ae 0 14%,#5f57ae 0 15%,#5d5aae 0 16%,#5b5daf 0 17%,#595fb0 0 18%,#5862b1 0 19%,#5665b1 0 20%,#5468b2 0 21%,#536bb4 0 22%,#536fb7 0 23%,#5272ba 0 24%,#5276bc 0 25%,#5178be 0 26%,#517bc0 0 27%,#507ec2 0 28%,#5080c4 0 29%,#5082c5 0 30%,#5084c6 0 31%,#5185c7 0 32%,#5187c7 0 33%,#5188c8 0 37%,#5187c8 0 38%,#5187c7 0 39%,#5185c7 0 40%,#5184c6 0 41%,#5082c5 0 42%,#5081c4 0 43%,#507fc3 0 44%,#507dc2 0 45%,#517bc1 0 46%,#517abf 0 47%,#5178be 0 48%,#5276bc 0 49%,#5274bb 0 50%,#5271b9 0 51%,#536fb8 0 52%,#536db6 0 53%,#536bb5 0 54%,#546ab3 0 55%,#5468b2 0 56%,#5567b2 0 57%,#5666b1 0 58%,#5665b1 0 59%,#5764b1 0 60%,#5763b1 0 61%,#5862b1 0 62%,#5861b0 0 63%,#5961b0 0 64%,#5960b0 0 66%,#595fb0 0 67%,#5a5fb0 0 69%,#5a5eb0 0 72%,#5a5eaf 0 78%,#5a5eb0 0)"></i><i style="left:251.39px;width:5.71px;background:linear-gradient(#744aaf 0 1%,#734aaf 0 2%,#724aaf 0 4%,#714baf 0 5%,#704bae 0 6%,#6f4cae 0 7%,#6e4cae 0 8%,#6c4dae 0 9%,#6a4fae 0 10%,#6850ae 0 11%,#6652ae 0 12%,#6454ae 0 13%,#6155ae 0 14%,#5f57ae 0 15%,#5d5aae 0 16%,#5b5caf 0 17%,#5a5fb0 0 18%,#5862b0 0 19%,#5665b1 0 20%,#5567b2 0 21%,#546bb4 0 22%,#536eb7 0 23%,#5272b9 0 24%,#5275bc 0 25%,#5178be 0 26%,#517ac0 0 27%,#517dc1 0 28%,#507fc3 0 29%,#5080c4 0 30%,#5082c5 0 31%,#5184c6 0 32%,#5185c7 0 33%,#5186c7 0 34%,#5187c7 0 36%,#5186c7 0 38%,#5185c7 0 39%,#5184c6 0 40%,#5083c5 0 41%,#5081c5 0 42%,#507fc4 0 43%,#507ec2 0 44%,#517cc1 0 45%,#517bc0 0 46%,#5179bf 0 47%,#5277bd 0 48%,#5275bc 0 49%,#5273ba 0 50%,#5371b9 0 51%,#536fb7 0 52%,#536db6 0 53%,#546bb4 0 54%,#5469b3 0 55%,#5467b2 0 56%,#5566b2 0 57%,#5665b1 0 58%,#5664b1 0 59%,#5763b1 0 60%,#5762b1 0 61%,#5862b0 0 62%,#5861b0 0 63%,#5960b0 0 65%,#595fb0 0 66%,#5a5fb0 0 67%,#5a5eb0 0 69%,#5a5eaf 0 71%,#5b5daf 0)"></i><i style="left:256.50px;width:5.71px;background:linear-gradient(#744aaf 0 1%,#734aaf 0 2%,#724aaf 0 3%,#724baf 0 4%,#714baf 0 5%,#704bae 0 6%,#6f4cae 0 7%,#6e4cae 0 8%,#6c4dae 0 9%,#6a4fae 0 10%,#6850ae 0 11%,#6652ae 0 12%,#6454ae 0 13%,#6155ae 0 14%,#5f57ae 0 15%,#5d5aae 0 16%,#5b5caf 0 17%,#5a5fb0 0 18%,#5862b0 0 19%,#5664b1 0 20%,#5567b2 0 21%,#546ab4 0 22%,#536eb6 0 23%,#5371b9 0 24%,#5274bb 0 25%,#5277bd 0 26%,#5179bf 0 27%,#517bc1 0 28%,#507dc2 0 29%,#507fc3 0 30%,#5081c4 0 31%,#5082c5 0 32%,#5084c6 0 33%,#5185c6 0 34%,#5185c7 0 36%,#5185c6 0 38%,#5084c6 0 39%,#5083c5 0 40%,#5081c5 0 41%,#5080c4 0 42%,#507fc3 0 43%,#507dc2 0 44%,#517bc1 0 45%,#517abf 0 46%,#5178be 0 47%,#5276bd 0 48%,#5274bb 0 49%,#5272ba 0 50%,#5370b8 0 51%,#536eb7 0 52%,#536cb5 0 53%,#546ab4 0 54%,#5468b2 0 55%,#5567b2 0 56%,#5566b1 0 57%,#5665b1 0 58%,#5764b1 0 59%,#5763b1 0 60%,#5862b1 0 61%,#5861b0 0 62%,#5960b0 0 64%,#595fb0 0 65%,#5a5fb0 0 66%,#5a5eb0 0 67%,#5a5eaf 0 68%,#5b5eaf 0 69%,#5b5daf 0)"></i><i style="left:261.61px;width:5.71px;background:linear-gradient(#744aaf 0 1%,#734aaf 0 2%,#724aaf 0 3%,#724baf 0 4%,#714baf 0 5%,#704bae 0 6%,#6f4cae 0 7%,#6e4cae 0 8%,#6c4dae 0 9%,#6a4fae 0 10%,#6850ae 0 11%,#6652ae 0 12%,#6454ae 0 13%,#6155ae 0 14%,#5f57ae 0 15%,#5d5aae 0 16%,#5b5caf 0 17%,#5a5fb0 0 18%,#5861b0 0 19%,#5664b1 0 20%,#5567b2 0 21%,#5469b3 0 22%,#536db6 0 23%,#5370b8 0 24%,#5273ba 0 25%,#5276bc 0 26%,#5178be 0 27%,#517ac0 0 28%,#517cc1 0 29%,#507ec3 0 30%,#5080c4 0 31%,#5081c4 0 32%,#5082c5 0 33%,#5083c5 0 34%,#5083c6 0 35%,#5084c6 0 37%,#5083c6 0 38%,#5082c5 0 39%,#5081c5 0 40%,#5080c4 0 41%,#507fc3 0 42%,#507ec2 0 43%,#517cc1 0 44%,#517bc0 0 45%,#5179bf 0 46%,#5177bd 0 47%,#5275bc 0 48%,#5274bb 0 49%,#5272b9 0 50%,#5370b8 0 51%,#536eb6 0 52%,#536cb5 0 53%,#546ab3 0 54%,#5468b2 0 55%,#5567b2 0 56%,#5666b1 0 57%,#5664b1 0 58%,#5763b1 0 59%,#5762b1 0 60%,#5862b0 0 61%,#5961b0 0 62%,#5960b0 0 63%,#595fb0 0 64%,#5a5fb0 0 65%,#5a5eb0 0 66%,#5a5eaf 0 67%,#5b5daf 0 71%,#5b5caf 0)"></i><i style="left:266.71px;width:5.71px;background:linear-gradient(#744aaf 0 1%,#734aaf 0 2%,#724aaf 0 3%,#724baf 0 4%,#714baf 0 5%,#704bae 0 6%,#6f4cae 0 7%,#6e4cae 0 8%,#6c4dae 0 9%,#6a4fae 0 10%,#6850ae 0 11%,#6652ae 0 12%,#6454ae 0 13%,#6156ae 0 14%,#5f57ae 0 15%,#5d5aae 0 16%,#5b5caf 0 17%,#5a5fb0 0 18%,#5861b0 0 19%,#5764b1 0 20%,#5566b2 0 21%,#5469b2 0 22%,#536cb5 0 23%,#536fb7 0 24%,#5272b9 0 25%,#5275bb 0 26%,#5177bd 0 27%,#5179bf 0 28%,#517bc0 0 29%,#517dc2 0 30%,#507ec3 0 31%,#507fc4 0 32%,#5080c4 0 33%,#5081c5 0 34%,#5082c5 0 38%,#5081c4 0 39%,#5080c4 0 40%,#507fc3 0 41%,#507ec3 0 42%,#517dc2 0 43%,#517cc1 0 44%,#517ac0 0 45%,#5178be 0 46%,#5277bd 0 47%,#5275bc 0 48%,#5273ba 0 49%,#5271b9 0 50%,#536fb7 0 51%,#536db6 0 52%,#536bb4 0 53%,#5469b3 0 54%,#5467b2 0 55%,#5566b2 0 56%,#5665b1 0 57%,#5764b1 0 58%,#5763b1 0 59%,#5862b0 0 60%,#5861b0 0 61%,#5960b0 0 63%,#5a5fb0 0 64%,#5a5eb0 0 65%,#5a5eaf 0 66%,#5b5daf 0 69%,#5b5caf 0 71%,#5c5caf 0)"></i><i style="left:271.82px;width:5.71px;background:linear-gradient(#744aaf 0 1%,#734aaf 0 2%,#724aaf 0 3%,#724baf 0 4%,#714baf 0 5%,#704bae 0 6%,#6f4cae 0 7%,#6e4cae 0 8%,#6c4dae 0 9%,#6a4fae 0 10%,#6850ae 0 11%,#6652ae 0 12%,#6454ae 0 13%,#6156ae 0 14%,#5f57ae 0 15%,#5d5aae 0 16%,#5b5caf 0 17%,#5a5fb0 0 18%,#5861b0 0 19%,#5763b1 0 20%,#5566b1 0 21%,#5468b2 0 22%,#536bb4 0 23%,#536eb7 0 24%,#5371b9 0 25%,#5274bb 0 26%,#5276bc 0 27%,#5178be 0 28%,#517abf 0 29%,#517cc1 0 30%,#517dc2 0 31%,#507ec3 0 32%,#507fc3 0 33%,#5080c4 0 39%,#507fc3 0 40%,#507ec3 0 41%,#507dc2 0 42%,#517cc1 0 43%,#517bc0 0 44%,#5179bf 0 45%,#5178be 0 46%,#5276bd 0 47%,#5274bb 0 48%,#5272ba 0 49%,#5370b8 0 50%,#536eb7 0 51%,#536db5 0 52%,#546bb4 0 53%,#5469b2 0 54%,#5567b2 0 55%,#5566b1 0 56%,#5665b1 0 57%,#5764b1 0 58%,#5762b1 0 59%,#5861b0 0 60%,#5961b0 0 61%,#5960b0 0 62%,#5a5fb0 0 63%,#5a5eb0 0 64%,#5a5eaf 0 65%,#5b5daf 0 67%,#5b5caf 0 69%,#5c5caf 0 71%,#5c5baf 0)"></i><i style="left:276.92px;width:5.71px;background:linear-gradient(#744aaf 0 1%,#734aaf 0 2%,#724aaf 0 3%,#724baf 0 4%,#714baf 0 5%,#704bae 0 6%,#6f4cae 0 7%,#6e4cae 0 8%,#6c4dae 0 9%,#6a4fae 0 10%,#6850ae 0 11%,#6652ae 0 12%,#6454ae 0 13%,#6156ae 0 14%,#5f57ae 0 15%,#5d5aae 0 16%,#5c5caf 0 17%,#5a5eb0 0 18%,#5961b0 0 19%,#5763b1 0 20%,#5665b1 0 21%,#5468b2 0 22%,#546ab4 0 23%,#536db6 0 24%,#5370b8 0 25%,#5273ba 0 26%,#5275bc 0 27%,#5277bd 0 28%,#5179bf 0 29%,#517ac0 0 30%,#517cc1 0 31%,#517dc2 0 32%,#507ec2 0 33%,#507ec3 0 34%,#507fc3 0 39%,#507ec2 0 40%,#507dc2 0 41%,#517cc1 0 42%,#517bc0 0 43%,#517ac0 0 44%,#5179be 0 45%,#5177bd 0 46%,#5275bc 0 47%,#5274bb 0 48%,#5272b9 0 49%,#5370b8 0 50%,#536eb6 0 51%,#536cb5 0 52%,#546ab3 0 53%,#5468b2 0 54%,#5567b2 0 55%,#5665b1 0 56%,#5664b1 0 57%,#5763b1 0 58%,#5862b0 0 59%,#5861b0 0 60%,#5960b0 0 61%,#5a5fb0 0 62%,#5a5eb0 0 63%,#5a5eaf 0 64%,#5b5daf 0 66%,#5b5caf 0 67%,#5c5caf 0 68%,#5c5baf 0)"></i><i style="left:282.03px;width:5.71px;background:linear-gradient(#744aaf 0 1%,#734aaf 0 2%,#724aaf 0 3%,#714baf 0 5%,#704bae 0 6%,#6f4cae 0 7%,#6e4cae 0 8%,#6c4dae 0 9%,#6a4fae 0 10%,#6850ae 0 11%,#6652ae 0 12%,#6454ae 0 13%,#6156ae 0 14%,#5f57ae 0 15%,#5d59ae 0 16%,#5c5caf 0 17%,#5a5eb0 0 18%,#5961b0 0 19%,#5763b1 0 20%,#5665b1 0 21%,#5567b2 0 22%,#546ab3 0 23%,#536cb5 0 24%,#536fb7 0 25%,#5271b9 0 26%,#5274bb 0 27%,#5276bc 0 28%,#5177be 0 29%,#5179bf 0 30%,#517ac0 0 31%,#517bc1 0 32%,#517cc1 0 33%,#517dc2 0 34%,#507dc2 0 35%,#507ec2 0 38%,#507dc2 0 39%,#517dc2 0 40%,#517cc1 0 41%,#517bc1 0 42%,#517ac0 0 43%,#5179bf 0 44%,#5178be 0 45%,#5276bd 0 46%,#5275bc 0 47%,#5273ba 0 48%,#5271b9 0 49%,#536fb8 0 50%,#536db6 0 51%,#536bb5 0 52%,#5469b3 0 53%,#5468b2 0 54%,#5566b2 0 55%,#5665b1 0 56%,#5764b1 0 57%,#5762b1 0 58%,#5861b0 0 59%,#5960b0 0 60%,#595fb0 0 61%,#5a5eb0 0 62%,#5a5eaf 0 63%,#5b5daf 0 64%,#5b5caf 0 65%,#5c5caf 0 67%,#5c5baf 0 71%,#5c5aaf 0 72%,#5d5aaf 0)"></i><i style="left:287.14px;width:5.71px;background:linear-gradient(#744aaf 0 1%,#734aaf 0 2%,#724aaf 0 3%,#714baf 0 5%,#704bae 0 6%,#6f4cae 0 7%,#6e4cae 0 8%,#6c4dae 0 9%,#6a4fae 0 10%,#6850ae 0 11%,#6652ae 0 12%,#6454ae 0 13%,#6155ae 0 14%,#5f57ae 0 15%,#5d59ae 0 16%,#5c5caf 0 17%,#5a5eb0 0 18%,#5960b0 0 19%,#5763b1 0 20%,#5665b1 0 21%,#5567b2 0 22%,#5469b3 0 23%,#536cb5 0 24%,#536eb7 0 25%,#5370b8 0 26%,#5272ba 0 27%,#5274bb 0 28%,#5276bc 0 29%,#5177be 0 30%,#5179bf 0 31%,#517abf 0 32%,#517bc0 0 33%,#517bc1 0 34%,#517cc1 0 40%,#517bc0 0 41%,#517ac0 0 42%,#517abf 0 43%,#5178be 0 44%,#5177bd 0 45%,#5276bc 0 46%,#5274bb 0 47%,#5273ba 0 48%,#5371b9 0 49%,#536fb7 0 50%,#536db6 0 51%,#546bb4 0 52%,#5469b3 0 53%,#5567b2 0 54%,#5566b1 0 55%,#5664b1 0 56%,#5763b1 0 57%,#5862b0 0 58%,#5961b0 0 59%,#5960b0 0 60%,#5a5fb0 0 61%,#5a5eaf 0 62%,#5b5daf 0 63%,#5b5caf 0 64%,#5c5caf 0 65%,#5c5baf 0 68%,#5c5aaf 0 69%,#5d5aaf 0 71%,#5d5aae 0)"></i><i style="left:292.24px;width:5.71px;background:linear-gradient(#734aaf 0 2%,#724aaf 0 3%,#714baf 0 5%,#704bae 0 6%,#6f4cae 0 7%,#6e4cae 0 8%,#6c4eae 0 9%,#6a4fae 0 10%,#6850ae 0 11%,#6652ae 0 12%,#6454ae 0 13%,#6155ae 0 14%,#5f57ae 0 15%,#5d59ae 0 16%,#5c5caf 0 17%,#5a5eaf 0 18%,#5960b0 0 19%,#5862b1 0 20%,#5664b1 0 21%,#5566b2 0 22%,#5468b2 0 23%,#546bb4 0 24%,#536db6 0 25%,#536fb7 0 26%,#5271b9 0 27%,#5273ba 0 28%,#5275bb 0 29%,#5276bc 0 30%,#5177bd 0 31%,#5178be 0 32%,#5179bf 0 33%,#517abf 0 34%,#517ac0 0 35%,#517bc0 0 40%,#517ac0 0 41%,#5179bf 0 42%,#5179be 0 43%,#5178be 0 44%,#5276bd 0 45%,#5275bc 0 46%,#5274bb 0 47%,#5272b9 0 48%,#5370b8 0 49%,#536eb7 0 50%,#536cb5 0 51%,#546ab4 0 52%,#5468b2 0 53%,#5567b2 0 54%,#5665b1 0 55%,#5764b1 0 56%,#5862b1 0 57%,#5861b0 0 58%,#5960b0 0 59%,#5a5fb0 0 60%,#5a5eaf 0 61%,#5b5daf 0 62%,#5b5caf 0 63%,#5c5caf 0 64%,#5c5baf 0 66%,#5d5aaf 0 68%,#5d5aae 0 71%,#5d59ae 0)"></i><i style="left:297.35px;width:5.71px;background:linear-gradient(#734aaf 0 2%,#724aaf 0 3%,#714baf 0 5%,#704bae 0 6%,#6f4cae 0 7%,#6e4cae 0 8%,#6c4eae 0 9%,#6a4fae 0 10%,#6850ae 0 11%,#6652ae 0 12%,#6454ae 0 13%,#6155ae 0 14%,#5f57ae 0 15%,#5d59ae 0 16%,#5c5baf 0 17%,#5a5eaf 0 18%,#5960b0 0 19%,#5862b0 0 20%,#5764b1 0 21%,#5566b1 0 22%,#5467b2 0 23%,#546ab3 0 24%,#536cb5 0 25%,#536eb6 0 26%,#5370b8 0 27%,#5271b9 0 28%,#5273ba 0 29%,#5274bb 0 30%,#5276bc 0 31%,#5277bd 0 32%,#5178be 0 34%,#5179bf 0 37%,#517abf 0 38%,#5179bf 0 41%,#5178be 0 43%,#5277bd 0 44%,#5276bc 0 45%,#5274bb 0 46%,#5273ba 0 47%,#5271b9 0 48%,#5370b8 0 49%,#536eb6 0 50%,#536cb5 0 51%,#546ab3 0 52%,#5468b2 0 53%,#5566b2 0 54%,#5664b1 0 55%,#5763b1 0 56%,#5862b0 0 57%,#5960b0 0 58%,#5a5fb0 0 59%,#5a5eaf 0 60%,#5b5daf 0 61%,#5b5caf 0 62%,#5c5baf 0 64%,#5d5aaf 0 65%,#5d5aae 0 67%,#5d59ae 0)"></i><i style="left:302.46px;width:5.71px;background:linear-gradient(#734aaf 0 2%,#724aaf 0 3%,#714baf 0 5%,#704bae 0 6%,#6f4cae 0 7%,#6e4cae 0 8%,#6c4eae 0 9%,#6a4fae 0 10%,#6851ae 0 11%,#6652ae 0 12%,#6454ae 0 13%,#6155ae 0 14%,#5f57ae 0 15%,#5d59ae 0 16%,#5c5baf 0 17%,#5b5daf 0 18%,#5960b0 0 19%,#5862b0 0 20%,#5763b1 0 21%,#5665b1 0 22%,#5567b2 0 23%,#5469b2 0 24%,#546bb4 0 25%,#536db5 0 26%,#536eb7 0 27%,#5370b8 0 28%,#5271b9 0 29%,#5273ba 0 30%,#5274bb 0 31%,#5275bc 0 32%,#5276bc 0 33%,#5277bd 0 34%,#5177bd 0 35%,#5178be 0 41%,#5177bd 0 42%,#5277bd 0 43%,#5276bc 0 44%,#5275bc 0 45%,#5274bb 0 46%,#5272ba 0 47%,#5371b9 0 48%,#536fb7 0 49%,#536db6 0 50%,#536bb4 0 51%,#5469b3 0 52%,#5567b2 0 53%,#5665b1 0 54%,#5764b1 0 55%,#5862b1 0 56%,#5861b0 0 57%,#595fb0 0 58%,#5a5eb0 0 59%,#5b5daf 0 60%,#5b5caf 0 61%,#5c5baf 0 62%,#5c5aaf 0 63%,#5d5aae 0 65%,#5d59ae 0 68%,#5e59ae 0)"></i><i style="left:307.56px;width:5.71px;background:linear-gradient(#734aaf 0 2%,#724aaf 0 3%,#714baf 0 5%,#704bae 0 6%,#6f4cae 0 7%,#6e4cae 0 8%,#6c4eae 0 9%,#6a4fae 0 10%,#6851ae 0 11%,#6652ae 0 12%,#6454ae 0 13%,#6155ae 0 14%,#5f57ae 0 15%,#5d59ae 0 16%,#5c5baf 0 17%,#5b5daf 0 18%,#595fb0 0 19%,#5861b0 0 20%,#5763b1 0 21%,#5665b1 0 22%,#5566b2 0 23%,#5468b2 0 24%,#5469b3 0 25%,#536bb4 0 26%,#536db6 0 27%,#536fb7 0 28%,#5370b8 0 29%,#5271b9 0 30%,#5272ba 0 31%,#5273ba 0 32%,#5274bb 0 33%,#5275bc 0 35%,#5276bc 0 36%,#5276bd 0 41%,#5276bc 0 42%,#5275bc 0 43%,#5275bb 0 44%,#5274bb 0 45%,#5273ba 0 46%,#5271b9 0 47%,#5370b8 0 48%,#536eb7 0 49%,#536cb5 0 50%,#546ab4 0 51%,#5468b2 0 52%,#5566b2 0 53%,#5665b1 0 54%,#5763b1 0 55%,#5862b0 0 56%,#5960b0 0 57%,#5a5fb0 0 58%,#5b5daf 0 59%,#5b5caf 0 60%,#5c5baf 0 61%,#5d5aaf 0 62%,#5d5aae 0 63%,#5d59ae 0 64%,#5e59ae 0 65%,#5e58ae 0)"></i><i style="left:312.67px;width:5.71px;background:linear-gradient(#734aaf 0 2%,#724aaf 0 3%,#714baf 0 5%,#704bae 0 6%,#6f4cae 0 7%,#6e4cae 0 8%,#6c4eae 0 9%,#6a4fae 0 10%,#6851ae 0 11%,#6652ae 0 12%,#6454ae 0 13%,#6155ae 0 14%,#5f57ae 0 15%,#5d59ae 0 16%,#5c5baf 0 17%,#5b5daf 0 18%,#5a5fb0 0 19%,#5861b0 0 20%,#5763b1 0 21%,#5664b1 0 22%,#5566b1 0 23%,#5567b2 0 24%,#5468b2 0 25%,#546ab4 0 26%,#536cb5 0 27%,#536db6 0 28%,#536eb7 0 29%,#536fb8 0 30%,#5370b8 0 31%,#5271b9 0 32%,#5272ba 0 33%,#5273ba 0 34%,#5273bb 0 35%,#5274bb 0 37%,#5275bb 0 38%,#5275bc 0 41%,#5274bb 0 43%,#5273bb 0 44%,#5273ba 0 45%,#5272b9 0 46%,#5370b8 0 47%,#536fb7 0 48%,#536db6 0 49%,#536bb5 0 50%,#5469b3 0 51%,#5467b2 0 52%,#5566b1 0 53%,#5664b1 0 54%,#5862b1 0 55%,#5961b0 0 56%,#5a5fb0 0 57%,#5a5eaf 0 58%,#5b5caf 0 59%,#5c5baf 0 60%,#5d5aaf 0 61%,#5d59ae 0 62%,#5e59ae 0 63%,#5e58ae 0)"></i><i style="left:317.77px;width:5.71px;background:linear-gradient(#734aaf 0 2%,#724aaf 0 3%,#714baf 0 5%,#704bae 0 6%,#6f4cae 0 7%,#6e4cae 0 8%,#6c4eae 0 9%,#6a4fae 0 10%,#6851ae 0 11%,#6652ae 0 12%,#6454ae 0 13%,#6155ae 0 14%,#5f57ae 0 15%,#5d59ae 0 16%,#5c5baf 0 17%,#5b5daf 0 18%,#5a5fb0 0 19%,#5961b0 0 20%,#5862b1 0 21%,#5764b1 0 22%,#5665b1 0 23%,#5566b2 0 24%,#5468b2 0 25%,#5469b3 0 26%,#546ab4 0 27%,#536cb5 0 28%,#536db6 0 29%,#536eb6 0 30%,#536fb7 0 31%,#5370b8 0 33%,#5371b9 0 34%,#5271b9 0 35%,#5272b9 0 36%,#5272ba 0 37%,#5273ba 0 43%,#5272ba 0 44%,#5271b9 0 45%,#5371b8 0 46%,#536fb8 0 47%,#536eb7 0 48%,#536cb5 0 49%,#546bb4 0 50%,#5468b2 0 51%,#5567b2 0 52%,#5665b1 0 53%,#5763b1 0 54%,#5862b0 0 55%,#5960b0 0 56%,#5a5eb0 0 57%,#5b5daf 0 58%,#5c5caf 0 59%,#5d5aaf 0 60%,#5d59ae 0 61%,#5e59ae 0 62%,#5e58ae 0 63%,#5f58ae 0 64%,#5f57ae 0 71%,#5f58ae 0)"></i><i style="left:322.88px;width:5.71px;background:linear-gradient(#734aaf 0 2%,#724aaf 0 3%,#714baf 0 5%,#704bae 0 6%,#6f4cae 0 7%,#6e4cae 0 8%,#6c4eae 0 9%,#6a4fae 0 10%,#6851ae 0 11%,#6652ae 0 12%,#6454ae 0 13%,#6155ae 0 14%,#5f57ae 0 15%,#5d59ae 0 16%,#5c5baf 0 17%,#5b5daf 0 18%,#5a5fb0 0 19%,#5960b0 0 20%,#5862b0 0 21%,#5763b1 0 22%,#5665b1 0 23%,#5566b1 0 24%,#5567b2 0 25%,#5468b2 0 26%,#5469b3 0 27%,#546ab4 0 28%,#536bb4 0 29%,#536cb5 0 30%,#536db6 0 31%,#536eb6 0 32%,#536eb7 0 33%,#536fb7 0 34%,#5370b8 0 37%,#5371b9 0 38%,#5271b9 0 43%,#5371b9 0 44%,#5370b8 0 45%,#536fb7 0 46%,#536eb7 0 47%,#536db6 0 48%,#536bb5 0 49%,#5469b3 0 50%,#5468b2 0 51%,#5566b1 0 52%,#5664b1 0 53%,#5762b1 0 54%,#5961b0 0 55%,#5a5fb0 0 56%,#5b5eaf 0 57%,#5b5caf 0 58%,#5c5baf 0 59%,#5d5aae 0 60%,#5e59ae 0 61%,#5e58ae 0 62%,#5f57ae 0)"></i><i style="left:327.99px;width:5.71px;background:linear-gradient(#734aaf 0 2%,#724aaf 0 3%,#714baf 0 5%,#704bae 0 6%,#6f4cae 0 7%,#6e4cae 0 8%,#6c4eae 0 9%,#6a4fae 0 10%,#6851ae 0 11%,#6652ae 0 12%,#6454ae 0 13%,#6155ae 0 14%,#5f57ae 0 15%,#5d59ae 0 16%,#5c5baf 0 17%,#5b5daf 0 18%,#5a5fb0 0 19%,#5960b0 0 20%,#5862b0 0 21%,#5763b1 0 22%,#5664b1 0 23%,#5665b1 0 24%,#5566b2 0 25%,#5467b2 0 26%,#5468b2 0 27%,#5469b3 0 28%,#546ab3 0 29%,#546bb4 0 30%,#536bb4 0 31%,#536cb5 0 32%,#536db5 0 33%,#536db6 0 34%,#536eb6 0 35%,#536eb7 0 37%,#536fb7 0 39%,#536fb8 0 40%,#5370b8 0 42%,#536fb8 0 43%,#536fb7 0 45%,#536eb6 0 46%,#536db6 0 47%,#536cb5 0 48%,#546ab4 0 49%,#5468b2 0 50%,#5567b2 0 51%,#5665b1 0 52%,#5763b1 0 53%,#5862b0 0 54%,#5960b0 0 55%,#5a5eb0 0 56%,#5b5daf 0 57%,#5c5baf 0 58%,#5d5aaf 0 59%,#5d59ae 0 60%,#5e58ae 0 61%,#5f58ae 0 62%,#5f57ae 0 64%,#6057ae 0 70%,#5f57ae 0)"></i><i style="left:333.09px;width:5.71px;background:linear-gradient(#734aaf 0 2%,#724aaf 0 3%,#714baf 0 5%,#704bae 0 6%,#6f4cae 0 7%,#6d4cae 0 8%,#6c4eae 0 9%,#6a4fae 0 10%,#6851ae 0 11%,#6652ae 0 12%,#6454ae 0 13%,#6155ae 0 14%,#5f57ae 0 15%,#5e59ae 0 16%,#5c5baf 0 17%,#5b5daf 0 18%,#5a5eb0 0 19%,#5960b0 0 20%,#5861b0 0 21%,#5763b1 0 22%,#5764b1 0 23%,#5665b1 0 24%,#5566b1 0 25%,#5567b2 0 26%,#5467b2 0 27%,#5468b2 0 28%,#5469b2 0 29%,#5469b3 0 30%,#546ab3 0 31%,#546ab4 0 32%,#546bb4 0 33%,#536bb4 0 34%,#536cb5 0 37%,#536db6 0 40%,#536eb6 0 43%,#536db6 0 45%,#536cb5 0 46%,#536bb4 0 47%,#546ab3 0 48%,#5468b2 0 49%,#5567b2 0 50%,#5666b1 0 51%,#5664b1 0 52%,#5862b1 0 53%,#5961b0 0 54%,#5a5fb0 0 55%,#5b5eaf 0 56%,#5b5caf 0 57%,#5c5baf 0 58%,#5d5aae 0 59%,#5e58ae 0 61%,#5f57ae 0 63%,#6057ae 0 65%,#6056ae 0 69%,#6057ae 0)"></i><i style="left:338.20px;width:5.71px;background:linear-gradient(#734aaf 0 2%,#724aaf 0 3%,#714baf 0 5%,#704bae 0 6%,#6f4cae 0 7%,#6d4cae 0 8%,#6c4eae 0 9%,#6a4fae 0 10%,#6851ae 0 11%,#6652ae 0 12%,#6454ae 0 13%,#6155ae 0 14%,#5f57ae 0 15%,#5e59ae 0 16%,#5c5baf 0 17%,#5b5daf 0 18%,#5a5eb0 0 19%,#5960b0 0 20%,#5861b0 0 21%,#5763b1 0 22%,#5764b1 0 23%,#5665b1 0 25%,#5566b2 0 26%,#5567b2 0 28%,#5468b2 0 31%,#5469b3 0 34%,#546ab3 0 35%,#546ab4 0 36%,#546bb4 0 38%,#536bb4 0 39%,#536cb5 0 43%,#536bb5 0 44%,#536bb4 0 45%,#546ab4 0 46%,#5469b3 0 47%,#5468b2 0 48%,#5567b2 0 49%,#5566b1 0 50%,#5664b1 0 51%,#5763b1 0 52%,#5861b0 0 53%,#5960b0 0 54%,#5a5eb0 0 55%,#5b5daf 0 56%,#5c5baf 0 57%,#5d5aaf 0 58%,#5d59ae 0 59%,#5e58ae 0 60%,#5f58ae 0 61%,#5f57ae 0 62%,#6057ae 0 63%,#6056ae 0 74%,#6057ae 0 76%,#6056ae 0)"></i><i style="left:343.30px;width:5.71px;background:linear-gradient(#734aaf 0 2%,#724aaf 0 3%,#714baf 0 4%,#704bae 0 6%,#6f4cae 0 7%,#6d4cae 0 8%,#6c4eae 0 9%,#6a4fae 0 10%,#6851ae 0 11%,#6652ae 0 12%,#6454ae 0 13%,#6155ae 0 14%,#5f57ae 0 15%,#5e59ae 0 16%,#5c5baf 0 17%,#5b5caf 0 18%,#5a5eb0 0 19%,#5960b0 0 20%,#5861b0 0 21%,#5862b1 0 22%,#5763b1 0 23%,#5664b1 0 24%,#5665b1 0 25%,#5566b1 0 26%,#5566b2 0 27%,#5567b2 0 29%,#5467b2 0 31%,#5468b2 0 35%,#5469b2 0 36%,#5469b3 0 39%,#546ab3 0 44%,#5469b3 0 45%,#5468b2 0 47%,#5567b2 0 48%,#5566b1 0 49%,#5665b1 0 50%,#5763b1 0 51%,#5862b0 0 52%,#5960b0 0 53%,#5a5fb0 0 54%,#5b5eaf 0 55%,#5b5caf 0 56%,#5c5baf 0 57%,#5d5aae 0 58%,#5e59ae 0 59%,#5e58ae 0 60%,#5f57ae 0 62%,#6057ae 0 63%,#6056ae 0 65%,#6156ae 0 70%,#6056ae 0)"></i><i style="left:348.41px;width:5.71px;background:linear-gradient(#734aaf 0 2%,#724aaf 0 3%,#714baf 0 4%,#704bae 0 6%,#6f4cae 0 7%,#6d4cae 0 8%,#6c4eae 0 9%,#6a4fae 0 10%,#6851ae 0 11%,#6652ae 0 12%,#6454ae 0 13%,#6155ae 0 14%,#5f57ae 0 15%,#5e59ae 0 16%,#5c5baf 0 17%,#5b5caf 0 18%,#5a5eb0 0 19%,#5960b0 0 20%,#5861b0 0 21%,#5862b1 0 22%,#5763b1 0 23%,#5764b1 0 24%,#5665b1 0 26%,#5566b1 0 27%,#5566b2 0 29%,#5567b2 0 33%,#5467b2 0 36%,#5468b2 0 44%,#5467b2 0 45%,#5567b2 0 46%,#5566b2 0 47%,#5665b1 0 48%,#5664b1 0 49%,#5763b1 0 50%,#5862b1 0 51%,#5961b0 0 52%,#595fb0 0 53%,#5a5eb0 0 54%,#5b5daf 0 55%,#5c5caf 0 56%,#5d5aaf 0 57%,#5d59ae 0 58%,#5e58ae 0 60%,#5f57ae 0 61%,#6057ae 0 62%,#6056ae 0 64%,#6156ae 0)"></i><i style="left:353.52px;width:5.71px;background:linear-gradient(#734aaf 0 2%,#724aaf 0 3%,#714baf 0 4%,#704bae 0 6%,#6f4cae 0 7%,#6d4cae 0 8%,#6c4eae 0 9%,#6a4fae 0 10%,#6851ae 0 11%,#6652ae 0 12%,#6454ae 0 13%,#6155ae 0 14%,#5f57ae 0 15%,#5e59ae 0 16%,#5c5baf 0 17%,#5b5caf 0 18%,#5a5eaf 0 19%,#595fb0 0 20%,#5961b0 0 21%,#5862b0 0 22%,#5763b1 0 23%,#5764b1 0 24%,#5664b1 0 25%,#5665b1 0 27%,#5566b1 0 28%,#5566b2 0 32%,#5567b2 0 43%,#5566b2 0 45%,#5665b1 0 47%,#5764b1 0 48%,#5763b1 0 49%,#5862b1 0 50%,#5861b0 0 51%,#5960b0 0 52%,#5a5fb0 0 53%,#5b5daf 0 54%,#5b5caf 0 55%,#5c5baf 0 56%,#5d5aae 0 57%,#5d59ae 0 58%,#5e58ae 0 59%,#5f57ae 0 61%,#6057ae 0 62%,#6056ae 0 63%,#6156ae 0)"></i><i style="left:358.62px;width:5.71px;background:linear-gradient(#734aaf 0 2%,#724aaf 0 3%,#714baf 0 4%,#704bae 0 6%,#6f4cae 0 7%,#6d4cae 0 8%,#6c4eae 0 9%,#6a4fae 0 10%,#6851ae 0 11%,#6652ae 0 12%,#6454ae 0 13%,#6155ae 0 14%,#5f57ae 0 15%,#5e59ae 0 16%,#5c5aaf 0 17%,#5b5caf 0 18%,#5a5eaf 0 19%,#5a5fb0 0 20%,#5960b0 0 21%,#5862b0 0 22%,#5763b1 0 24%,#5664b1 0 25%,#5665b1 0 28%,#5566b1 0 30%,#5566b2 0 38%,#5566b1 0 42%,#5666b1 0 43%,#5665b1 0 45%,#5664b1 0 46%,#5764b1 0 47%,#5763b1 0 48%,#5862b0 0 49%,#5861b0 0 50%,#5960b0 0 51%,#5a5fb0 0 52%,#5a5eaf 0 53%,#5b5daf 0 54%,#5c5baf 0 55%,#5c5aaf 0 56%,#5d59ae 0 57%,#5e59ae 0 58%,#5e58ae 0 59%,#5f57ae 0 61%,#6057ae 0 62%,#6056ae 0 63%,#6156ae 0 68%,#6155ae 0)"></i><i style="left:363.73px;width:5.71px;background:linear-gradient(#734aaf 0 2%,#724aaf 0 3%,#714baf 0 4%,#704bae 0 6%,#6f4cae 0 7%,#6d4dae 0 8%,#6c4eae 0 9%,#6a4fae 0 10%,#6851ae 0 11%,#6652ae 0 12%,#6454ae 0 13%,#6255ae 0 14%,#6057ae 0 15%,#5e58ae 0 16%,#5d5aaf 0 17%,#5c5caf 0 18%,#5b5eaf 0 19%,#5a5fb0 0 20%,#5960b0 0 21%,#5861b0 0 22%,#5862b1 0 23%,#5763b1 0 24%,#5764b1 0 25%,#5664b1 0 26%,#5665b1 0 29%,#5666b1 0 30%,#5566b1 0 34%,#5666b1 0 36%,#5665b1 0 42%,#5664b1 0 44%,#5764b1 0 45%,#5763b1 0 46%,#5762b1 0 47%,#5862b0 0 48%,#5861b0 0 49%,#5960b0 0 50%,#5a5fb0 0 51%,#5a5eaf 0 52%,#5b5daf 0 53%,#5c5caf 0 54%,#5c5baf 0 55%,#5d5aaf 0 56%,#5d59ae 0 57%,#5e58ae 0 59%,#5f57ae 0 60%,#6057ae 0 61%,#6056ae 0 63%,#6156ae 0 66%,#6155ae 0 67%,#6255ae 0)"></i><i style="left:368.83px;width:5.71px;background:linear-gradient(#734aaf 0 2%,#724aaf 0 3%,#714baf 0 4%,#704bae 0 6%,#6f4cae 0 7%,#6d4dae 0 8%,#6c4eae 0 9%,#6a4fae 0 10%,#6851ae 0 11%,#6652ae 0 12%,#6454ae 0 13%,#6255ae 0 14%,#6057ae 0 15%,#5e58ae 0 16%,#5d5aae 0 17%,#5c5caf 0 18%,#5b5daf 0 19%,#5a5fb0 0 20%,#5960b0 0 21%,#5861b0 0 22%,#5862b1 0 23%,#5763b1 0 24%,#5764b1 0 25%,#5664b1 0 26%,#5665b1 0 39%,#5664b1 0 41%,#5764b1 0 43%,#5763b1 0 45%,#5862b1 0 46%,#5861b0 0 47%,#5961b0 0 48%,#5960b0 0 49%,#5a5fb0 0 50%,#5a5eb0 0 51%,#5b5daf 0 52%,#5b5caf 0 53%,#5c5baf 0 55%,#5d5aae 0 56%,#5d59ae 0 57%,#5e58ae 0 58%,#5f58ae 0 59%,#5f57ae 0 60%,#6057ae 0 61%,#6056ae 0 62%,#6156ae 0 65%,#6155ae 0 66%,#6255ae 0)"></i><i style="left:373.94px;width:5.71px;background:linear-gradient(#734aaf 0 2%,#724aaf 0 3%,#714baf 0 4%,#704bae 0 6%,#6f4cae 0 7%,#6d4dae 0 8%,#6c4eae 0 9%,#6a4fae 0 10%,#6851ae 0 11%,#6652ae 0 12%,#6454ae 0 13%,#6255ae 0 14%,#6056ae 0 15%,#5e58ae 0 16%,#5d5aae 0 17%,#5c5baf 0 18%,#5b5daf 0 19%,#5a5eb0 0 20%,#5960b0 0 21%,#5961b0 0 22%,#5862b0 0 23%,#5763b1 0 25%,#5764b1 0 26%,#5664b1 0 27%,#5665b1 0 36%,#5664b1 0 38%,#5764b1 0 40%,#5763b1 0 43%,#5862b1 0 44%,#5862b0 0 45%,#5861b0 0 46%,#5961b0 0 47%,#5960b0 0 48%,#5a5fb0 0 49%,#5a5eb0 0 50%,#5b5eaf 0 51%,#5b5daf 0 52%,#5c5caf 0 53%,#5c5baf 0 54%,#5d5aaf 0 55%,#5d59ae 0 56%,#5e59ae 0 57%,#5e58ae 0 58%,#5f57ae 0 60%,#6057ae 0 61%,#6056ae 0 62%,#6156ae 0 65%,#6255ae 0)"></i><i style="left:379.05px;width:5.71px;background:linear-gradient(#734aaf 0 2%,#724aaf 0 3%,#714baf 0 4%,#704bae 0 5%,#6f4bae 0 6%,#6f4cae 0 7%,#6d4dae 0 8%,#6c4eae 0 9%,#6a4fae 0 10%,#6851ae 0 11%,#6652ae 0 12%,#6453ae 0 13%,#6255ae 0 14%,#6056ae 0 15%,#5e58ae 0 16%,#5d59ae 0 17%,#5c5baf 0 18%,#5b5daf 0 19%,#5a5eb0 0 20%,#595fb0 0 21%,#5960b0 0 22%,#5861b0 0 23%,#5862b1 0 24%,#5763b1 0 26%,#5764b1 0 27%,#5664b1 0 29%,#5665b1 0 33%,#5664b1 0 36%,#5764b1 0 38%,#5763b1 0 41%,#5862b1 0 42%,#5862b0 0 43%,#5861b0 0 45%,#5960b0 0 47%,#5a5fb0 0 48%,#5a5eb0 0 49%,#5a5eaf 0 50%,#5b5daf 0 51%,#5b5caf 0 52%,#5c5baf 0 54%,#5d5aae 0 55%,#5d59ae 0 56%,#5e58ae 0 58%,#5f57ae 0 60%,#6057ae 0 61%,#6056ae 0 62%,#6156ae 0 64%,#6155ae 0 65%,#6255ae 0 71%,#6355ae 0)"></i><i style="left:384.15px;width:5.71px;background:linear-gradient(#734aaf 0 2%,#724aaf 0 3%,#714baf 0 4%,#704bae 0 5%,#6f4bae 0 6%,#6f4cae 0 7%,#6d4dae 0 8%,#6c4eae 0 9%,#6a4fae 0 10%,#6851ae 0 11%,#6652ae 0 12%,#6453ae 0 13%,#6255ae 0 14%,#6056ae 0 15%,#5e58ae 0 16%,#5d59ae 0 17%,#5c5baf 0 18%,#5b5caf 0 19%,#5a5eaf 0 20%,#5a5fb0 0 21%,#5960b0 0 22%,#5861b0 0 23%,#5862b0 0 24%,#5763b1 0 26%,#5764b1 0 28%,#5664b1 0 33%,#5764b1 0 36%,#5763b1 0 39%,#5762b1 0 40%,#5862b1 0 41%,#5862b0 0 42%,#5861b0 0 44%,#5960b0 0 46%,#5a5fb0 0 48%,#5a5eaf 0 49%,#5b5daf 0 51%,#5c5caf 0 52%,#5c5baf 0 53%,#5d5aaf 0 54%,#5d5aae 0 55%,#5d59ae 0 56%,#5e58ae 0 58%,#5f57ae 0 59%,#6057ae 0 60%,#6056ae 0 62%,#6156ae 0 64%,#6255ae 0 69%,#6355ae 0 70%,#6354ae 0)"></i><i style="left:389.26px;width:5.71px;background:linear-gradient(#734aaf 0 2%,#724aaf 0 3%,#714baf 0 4%,#704bae 0 5%,#6f4bae 0 6%,#6f4cae 0 7%,#6d4dae 0 8%,#6c4eae 0 9%,#6a4fae 0 10%,#6851ae 0 11%,#6652ae 0 12%,#6453ae 0 13%,#6255ae 0 14%,#6056ae 0 15%,#5f58ae 0 16%,#5d59ae 0 17%,#5c5baf 0 18%,#5b5caf 0 19%,#5a5eaf 0 20%,#5a5fb0 0 21%,#5960b0 0 22%,#5861b0 0 23%,#5862b0 0 24%,#5862b1 0 25%,#5763b1 0 27%,#5764b1 0 34%,#5763b1 0 38%,#5862b1 0 39%,#5862b0 0 41%,#5861b0 0 42%,#5961b0 0 43%,#5960b0 0 45%,#595fb0 0 46%,#5a5fb0 0 47%,#5a5eb0 0 48%,#5b5daf 0 50%,#5b5caf 0 51%,#5c5baf 0 53%,#5d5aaf 0 54%,#5d59ae 0 55%,#5e59ae 0 56%,#5e58ae 0 58%,#5f57ae 0 59%,#6057ae 0 60%,#6056ae 0 61%,#6156ae 0 63%,#6155ae 0 64%,#6255ae 0 67%,#6355ae 0 68%,#6354ae 0)"></i><i style="left:394.37px;width:5.71px;background:linear-gradient(#734aaf 0 2%,#724aaf 0 3%,#714baf 0 4%,#704bae 0 5%,#6f4bae 0 6%,#6f4cae 0 7%,#6d4dae 0 8%,#6c4eae 0 9%,#6a4fae 0 10%,#6851ae 0 11%,#6652ae 0 12%,#6453ae 0 13%,#6255ae 0 14%,#6056ae 0 15%,#5f57ae 0 16%,#5d59ae 0 17%,#5c5baf 0 18%,#5b5caf 0 19%,#5b5daf 0 20%,#5a5fb0 0 21%,#5960b0 0 22%,#5961b0 0 23%,#5861b0 0 24%,#5862b1 0 25%,#5763b1 0 36%,#5862b1 0 38%,#5862b0 0 39%,#5861b0 0 41%,#5961b0 0 42%,#5960b0 0 44%,#595fb0 0 45%,#5a5fb0 0 46%,#5a5eb0 0 47%,#5b5eaf 0 48%,#5b5daf 0 49%,#5b5caf 0 50%,#5c5caf 0 51%,#5c5baf 0 52%,#5c5aaf 0 53%,#5d5aae 0 54%,#5d59ae 0 55%,#5e59ae 0 56%,#5e58ae 0 57%,#5f58ae 0 58%,#5f57ae 0 59%,#6057ae 0 60%,#6056ae 0 61%,#6156ae 0 63%,#6255ae 0 67%,#6354ae 0)"></i><i style="left:399.47px;width:5.71px;background:linear-gradient(#734aaf 0 1%,#724aaf 0 3%,#714baf 0 4%,#704bae 0 5%,#6f4bae 0 6%,#6f4cae 0 7%,#6d4dae 0 8%,#6c4eae 0 9%,#6a4fae 0 10%,#6851ae 0 11%,#6652ae 0 12%,#6453ae 0 13%,#6255ae 0 14%,#6156ae 0 15%,#5f57ae 0 16%,#5d59ae 0 17%,#5c5aaf 0 18%,#5c5caf 0 19%,#5b5daf 0 20%,#5a5eb0 0 21%,#595fb0 0 22%,#5960b0 0 23%,#5861b0 0 24%,#5862b0 0 25%,#5862b1 0 26%,#5763b1 0 34%,#5762b1 0 35%,#5862b1 0 36%,#5862b0 0 38%,#5861b0 0 40%,#5960b0 0 43%,#595fb0 0 44%,#5a5fb0 0 45%,#5a5eb0 0 46%,#5a5eaf 0 47%,#5b5daf 0 49%,#5b5caf 0 50%,#5c5baf 0 52%,#5d5aaf 0 53%,#5d5aae 0 54%,#5d59ae 0 55%,#5e58ae 0 57%,#5f57ae 0 59%,#6057ae 0 60%,#6056ae 0 61%,#6156ae 0 63%,#6255ae 0 66%,#6355ae 0 67%,#6354ae 0 71%,#6454ae 0)"></i><i style="left:404.58px;width:5.71px;background:linear-gradient(#734aaf 0 1%,#724aaf 0 3%,#714baf 0 4%,#704bae 0 5%,#6f4bae 0 6%,#6e4cae 0 7%,#6d4dae 0 8%,#6c4eae 0 9%,#6a4fae 0 10%,#6851ae 0 11%,#6652ae 0 12%,#6453ae 0 13%,#6255ae 0 14%,#6156ae 0 15%,#5f57ae 0 16%,#5e59ae 0 17%,#5d5aaf 0 18%,#5c5caf 0 19%,#5b5daf 0 20%,#5a5eb0 0 21%,#5a5fb0 0 22%,#5960b0 0 23%,#5961b0 0 24%,#5861b0 0 25%,#5862b0 0 26%,#5862b1 0 27%,#5762b1 0 28%,#5763b1 0 32%,#5862b1 0 34%,#5862b0 0 36%,#5861b0 0 38%,#5961b0 0 39%,#5960b0 0 42%,#595fb0 0 43%,#5a5fb0 0 44%,#5a5eb0 0 45%,#5a5eaf 0 46%,#5b5daf 0 48%,#5b5caf 0 49%,#5c5caf 0 50%,#5c5baf 0 52%,#5d5aaf 0 53%,#5d59ae 0 55%,#5e58ae 0 57%,#5f57ae 0 59%,#6057ae 0 60%,#6056ae 0 61%,#6156ae 0 62%,#6155ae 0 63%,#6255ae 0 65%,#6355ae 0 66%,#6354ae 0 69%,#6454ae 0)"></i><i style="left:409.68px;width:5.71px;background:linear-gradient(#734aaf 0 1%,#724aaf 0 3%,#714baf 0 4%,#704bae 0 5%,#6f4bae 0 6%,#6e4cae 0 7%,#6d4dae 0 8%,#6b4eae 0 9%,#6a4fae 0 10%,#6851ae 0 11%,#6652ae 0 12%,#6453ae 0 13%,#6355ae 0 14%,#6156ae 0 15%,#5f57ae 0 16%,#5e59ae 0 17%,#5d5aaf 0 18%,#5c5baf 0 19%,#5b5daf 0 20%,#5a5eaf 0 21%,#5a5fb0 0 22%,#5960b0 0 24%,#5861b0 0 26%,#5862b0 0 27%,#5862b1 0 32%,#5862b0 0 34%,#5861b0 0 37%,#5961b0 0 38%,#5960b0 0 41%,#595fb0 0 42%,#5a5fb0 0 43%,#5a5eb0 0 44%,#5a5eaf 0 45%,#5b5eaf 0 46%,#5b5daf 0 48%,#5b5caf 0 49%,#5c5baf 0 51%,#5c5aaf 0 52%,#5d5aae 0 53%,#5d59ae 0 54%,#5e59ae 0 55%,#5e58ae 0 57%,#5f57ae 0 58%,#6057ae 0 59%,#6056ae 0 60%,#6156ae 0 62%,#6255ae 0 65%,#6354ae 0 68%,#6454ae 0 71%,#6453ae 0)"></i><i style="left:414.79px;width:5.71px;background:linear-gradient(#734aaf 0 1%,#724aaf 0 3%,#714baf 0 4%,#704bae 0 5%,#6f4bae 0 6%,#6e4cae 0 7%,#6d4dae 0 8%,#6c4eae 0 9%,#6a4fae 0 10%,#6851ae 0 11%,#6652ae 0 12%,#6453ae 0 13%,#6355ae 0 14%,#6156ae 0 15%,#5f57ae 0 16%,#5e58ae 0 17%,#5d5aae 0 18%,#5c5baf 0 19%,#5b5daf 0 20%,#5a5eaf 0 21%,#5a5fb0 0 22%,#595fb0 0 23%,#5960b0 0 24%,#5961b0 0 25%,#5861b0 0 27%,#5862b0 0 32%,#5861b0 0 35%,#5961b0 0 36%,#5960b0 0 40%,#5a5fb0 0 42%,#5a5eb0 0 44%,#5a5eaf 0 45%,#5b5daf 0 47%,#5b5caf 0 48%,#5c5caf 0 49%,#5c5baf 0 51%,#5d5aaf 0 52%,#5d5aae 0 53%,#5d59ae 0 54%,#5e59ae 0 55%,#5e58ae 0 56%,#5f58ae 0 57%,#5f57ae 0 58%,#6057ae 0 59%,#6056ae 0 60%,#6156ae 0 62%,#6255ae 0 64%,#6355ae 0 65%,#6354ae 0 67%,#6454ae 0 69%,#6453ae 0 74%,#6553ae 0 76%,#6453ae 0)"></i><i style="left:419.90px;width:5.71px;background:linear-gradient(#734aaf 0 1%,#724aaf 0 3%,#714baf 0 4%,#704bae 0 5%,#6f4bae 0 6%,#6e4cae 0 7%,#6d4dae 0 8%,#6c4eae 0 9%,#6a4fae 0 10%,#6850ae 0 11%,#6652ae 0 12%,#6453ae 0 13%,#6354ae 0 14%,#6156ae 0 15%,#5f57ae 0 16%,#5e58ae 0 17%,#5d5aae 0 18%,#5c5baf 0 19%,#5b5caf 0 20%,#5b5daf 0 21%,#5a5eb0 0 22%,#5a5fb0 0 23%,#5960b0 0 25%,#5961b0 0 26%,#5861b0 0 33%,#5961b0 0 35%,#5960b0 0 38%,#595fb0 0 39%,#5a5fb0 0 41%,#5a5eb0 0 43%,#5a5eaf 0 44%,#5b5daf 0 46%,#5b5caf 0 47%,#5c5caf 0 49%,#5c5baf 0 51%,#5d5aaf 0 52%,#5d5aae 0 53%,#5d59ae 0 54%,#5e58ae 0 56%,#5f57ae 0 58%,#6057ae 0 59%,#6056ae 0 60%,#6156ae 0 61%,#6155ae 0 62%,#6255ae 0 64%,#6354ae 0 67%,#6454ae 0 68%,#6453ae 0 71%,#6553ae 0)"></i><i style="left:425.00px;width:5.71px;background:linear-gradient(#734aaf 0 1%,#724aaf 0 3%,#714baf 0 4%,#704bae 0 5%,#6f4bae 0 6%,#6e4cae 0 7%,#6d4dae 0 8%,#6c4eae 0 9%,#6a4fae 0 10%,#6850ae 0 11%,#6652ae 0 12%,#6553ae 0 13%,#6354ae 0 14%,#6156ae 0 15%,#5f57ae 0 16%,#5e58ae 0 17%,#5d5aae 0 18%,#5c5baf 0 19%,#5b5caf 0 20%,#5b5daf 0 21%,#5a5eb0 0 22%,#5a5fb0 0 23%,#595fb0 0 24%,#5960b0 0 26%,#5961b0 0 27%,#5861b0 0 31%,#5961b0 0 33%,#5960b0 0 37%,#595fb0 0 38%,#5a5fb0 0 40%,#5a5eb0 0 42%,#5a5eaf 0 43%,#5b5daf 0 46%,#5b5caf 0 47%,#5c5caf 0 48%,#5c5baf 0 50%,#5d5aaf 0 51%,#5d5aae 0 52%,#5d59ae 0 54%,#5e58ae 0 56%,#5f57ae 0 58%,#6057ae 0 59%,#6056ae 0 60%,#6156ae 0 61%,#6255ae 0 64%,#6354ae 0 66%,#6454ae 0 68%,#6453ae 0 70%,#6553ae 0)"></i><i style="left:430.11px;width:5.71px;background:linear-gradient(#734aaf 0 1%,#724aaf 0 3%,#714baf 0 4%,#704bae 0 5%,#6f4bae 0 6%,#6e4cae 0 7%,#6d4dae 0 8%,#6c4eae 0 9%,#6a4fae 0 10%,#6850ae 0 11%,#6652ae 0 12%,#6553ae 0 13%,#6354ae 0 14%,#6156ae 0 15%,#6057ae 0 16%,#5e58ae 0 17%,#5d59ae 0 18%,#5c5baf 0 19%,#5c5caf 0 20%,#5b5daf 0 21%,#5a5eaf 0 22%,#5a5eb0 0 23%,#5a5fb0 0 24%,#5960b0 0 28%,#5961b0 0 30%,#5960b0 0 35%,#595fb0 0 36%,#5a5fb0 0 39%,#5a5eb0 0 41%,#5a5eaf 0 42%,#5b5daf 0 45%,#5b5caf 0 46%,#5c5caf 0 48%,#5c5baf 0 50%,#5d5aaf 0 51%,#5d5aae 0 52%,#5d59ae 0 53%,#5e59ae 0 54%,#5e58ae 0 56%,#5f57ae 0 57%,#6057ae 0 58%,#6056ae 0 59%,#6156ae 0 61%,#6255ae 0 63%,#6355ae 0 64%,#6354ae 0 66%,#6454ae 0 67%,#6453ae 0 69%,#6553ae 0)"></i><i style="left:435.21px;width:5.71px;background:linear-gradient(#734aaf 0 1%,#724aaf 0 3%,#714baf 0 4%,#704bae 0 5%,#6f4bae 0 6%,#6e4cae 0 7%,#6d4dae 0 8%,#6c4eae 0 9%,#6a4fae 0 10%,#6850ae 0 11%,#6652ae 0 12%,#6553ae 0 13%,#6354ae 0 14%,#6155ae 0 15%,#6057ae 0 16%,#5e58ae 0 17%,#5d59ae 0 18%,#5d5aaf 0 19%,#5c5baf 0 20%,#5b5daf 0 22%,#5a5eb0 0 23%,#5a5fb0 0 24%,#595fb0 0 25%,#5960b0 0 33%,#595fb0 0 35%,#5a5fb0 0 38%,#5a5eb0 0 39%,#5a5eaf 0 41%,#5b5daf 0 44%,#5b5caf 0 46%,#5c5caf 0 47%,#5c5baf 0 49%,#5c5aaf 0 50%,#5d5aaf 0 51%,#5d5aae 0 52%,#5d59ae 0 53%,#5e59ae 0 54%,#5e58ae 0 55%,#5f58ae 0 56%,#5f57ae 0 57%,#6057ae 0 58%,#6056ae 0 59%,#6156ae 0 61%,#6255ae 0 63%,#6354ae 0 65%,#6454ae 0 66%,#6453ae 0 68%,#6553ae 0 72%,#6552ae 0 79%,#6553ae 0 87%,#6552ae 0)"></i><i style="left:440.32px;width:5.71px;background:linear-gradient(#734aaf 0 1%,#724aaf 0 2%,#724baf 0 3%,#714baf 0 4%,#704bae 0 5%,#6f4bae 0 6%,#6e4cae 0 7%,#6d4dae 0 8%,#6c4eae 0 9%,#6a4fae 0 10%,#6850ae 0 11%,#6652ae 0 12%,#6553ae 0 13%,#6354ae 0 14%,#6255ae 0 15%,#6057ae 0 16%,#5e58ae 0 17%,#5d59ae 0 18%,#5d5aaf 0 19%,#5c5baf 0 20%,#5b5caf 0 21%,#5b5daf 0 22%,#5a5eaf 0 23%,#5a5eb0 0 24%,#5a5fb0 0 25%,#595fb0 0 26%,#5960b0 0 32%,#595fb0 0 33%,#5a5fb0 0 36%,#5a5eb0 0 38%,#5a5eaf 0 40%,#5b5daf 0 44%,#5b5caf 0 45%,#5c5caf 0 47%,#5c5baf 0 49%,#5d5aaf 0 50%,#5d5aae 0 51%,#5d59ae 0 53%,#5e58ae 0 55%,#5f58ae 0 56%,#5f57ae 0 57%,#6057ae 0 58%,#6056ae 0 59%,#6156ae 0 60%,#6155ae 0 61%,#6255ae 0 63%,#6354ae 0 65%,#6454ae 0 66%,#6453ae 0 67%,#6553ae 0 70%,#6552ae 0 72%,#6652ae 0)"></i><i style="left:445.43px;width:5.71px;background:linear-gradient(#734aaf 0 1%,#724aaf 0 2%,#724baf 0 3%,#714baf 0 4%,#704bae 0 5%,#6f4bae 0 6%,#6e4cae 0 7%,#6d4dae 0 8%,#6c4eae 0 9%,#6a4fae 0 10%,#6850ae 0 11%,#6752ae 0 12%,#6553ae 0 13%,#6354ae 0 14%,#6255ae 0 15%,#6056ae 0 16%,#5f57ae 0 17%,#5e59ae 0 18%,#5d5aae 0 19%,#5c5baf 0 20%,#5c5caf 0 21%,#5b5daf 0 22%,#5b5eaf 0 23%,#5a5eb0 0 24%,#5a5fb0 0 27%,#595fb0 0 31%,#5a5fb0 0 35%,#5a5eb0 0 37%,#5a5eaf 0 39%,#5b5daf 0 43%,#5b5caf 0 45%,#5c5caf 0 46%,#5c5baf 0 49%,#5d5aaf 0 50%,#5d5aae 0 51%,#5d59ae 0 53%,#5e58ae 0 55%,#5f57ae 0 57%,#6057ae 0 58%,#6056ae 0 59%,#6156ae 0 60%,#6255ae 0 62%,#6355ae 0 63%,#6354ae 0 64%,#6454ae 0 65%,#6453ae 0 67%,#6553ae 0 70%,#6652ae 0)"></i><i style="left:450.53px;width:5.71px;background:linear-gradient(#734aaf 0 1%,#724aaf 0 2%,#724baf 0 3%,#714baf 0 4%,#704bae 0 5%,#6f4bae 0 6%,#6e4cae 0 7%,#6d4dae 0 8%,#6c4eae 0 9%,#6a4fae 0 10%,#6850ae 0 11%,#6752ae 0 12%,#6553ae 0 13%,#6354ae 0 14%,#6255ae 0 15%,#6056ae 0 16%,#5f57ae 0 17%,#5e58ae 0 18%,#5d5aae 0 19%,#5c5baf 0 20%,#5c5caf 0 21%,#5b5daf 0 23%,#5a5eaf 0 24%,#5a5eb0 0 25%,#5a5fb0 0 33%,#5a5eb0 0 36%,#5a5eaf 0 37%,#5b5eaf 0 38%,#5b5daf 0 42%,#5b5caf 0 44%,#5c5caf 0 46%,#5c5baf 0 48%,#5c5aaf 0 49%,#5d5aaf 0 50%,#5d5aae 0 51%,#5d59ae 0 52%,#5e59ae 0 53%,#5e58ae 0 55%,#5f57ae 0 57%,#6056ae 0 58%,#6156ae 0 60%,#6255ae 0 62%,#6354ae 0 64%,#6454ae 0 65%,#6453ae 0 66%,#6553ae 0 69%,#6652ae 0)"></i><i style="left:455.64px;width:5.71px;background:linear-gradient(#734aaf 0 1%,#724aaf 0 2%,#724baf 0 3%,#714baf 0 4%,#704bae 0 5%,#6f4bae 0 6%,#6e4cae 0 7%,#6d4dae 0 8%,#6c4eae 0 9%,#6a4fae 0 10%,#6850ae 0 11%,#6752ae 0 12%,#6553ae 0 13%,#6354ae 0 14%,#6255ae 0 15%,#6056ae 0 16%,#5f57ae 0 17%,#5e58ae 0 18%,#5d59ae 0 19%,#5c5aaf 0 20%,#5c5baf 0 21%,#5b5caf 0 22%,#5b5daf 0 24%,#5a5eaf 0 25%,#5a5eb0 0 27%,#5a5fb0 0 31%,#5a5eb0 0 34%,#5a5eaf 0 36%,#5b5daf 0 41%,#5b5caf 0 43%,#5c5caf 0 45%,#5c5baf 0 48%,#5d5aaf 0 49%,#5d5aae 0 51%,#5d59ae 0 52%,#5e59ae 0 53%,#5e58ae 0 55%,#5f57ae 0 56%,#6057ae 0 57%,#6056ae 0 58%,#6156ae 0 60%,#6255ae 0 62%,#6354ae 0 64%,#6454ae 0 65%,#6453ae 0 66%,#6553ae 0 68%,#6552ae 0 69%,#6652ae 0)"></i><i style="left:460.74px;width:5.71px;background:linear-gradient(#734aaf 0 1%,#724aaf 0 2%,#724baf 0 3%,#714baf 0 4%,#704bae 0 5%,#6f4bae 0 6%,#6e4cae 0 7%,#6d4dae 0 8%,#6c4eae 0 9%,#6a4fae 0 10%,#6850ae 0 11%,#6751ae 0 12%,#6553ae 0 13%,#6454ae 0 14%,#6255ae 0 15%,#6156ae 0 16%,#5f57ae 0 17%,#5e58ae 0 18%,#5d59ae 0 19%,#5d5aaf 0 20%,#5c5baf 0 21%,#5c5caf 0 22%,#5b5daf 0 24%,#5b5eaf 0 25%,#5a5eaf 0 26%,#5a5eb0 0 32%,#5a5eaf 0 34%,#5b5eaf 0 35%,#5b5daf 0 40%,#5b5caf 0 42%,#5c5caf 0 44%,#5c5baf 0 48%,#5d5aaf 0 49%,#5d5aae 0 50%,#5d59ae 0 52%,#5e58ae 0 54%,#5f58ae 0 55%,#5f57ae 0 56%,#6057ae 0 57%,#6056ae 0 58%,#6156ae 0 59%,#6155ae 0 60%,#6255ae 0 61%,#6355ae 0 62%,#6354ae 0 63%,#6454ae 0 64%,#6453ae 0 65%,#6553ae 0 67%,#6552ae 0 68%,#6652ae 0 73%,#6752ae 0 77%,#6652ae 0)"></i><i style="left:465.85px;width:5.71px;background:linear-gradient(#734aaf 0 1%,#724aaf 0 2%,#724baf 0 3%,#714baf 0 4%,#704bae 0 5%,#6f4bae 0 6%,#6e4cae 0 7%,#6d4dae 0 8%,#6c4eae 0 9%,#6a4fae 0 10%,#6850ae 0 11%,#6751ae 0 12%,#6553ae 0 13%,#6454ae 0 14%,#6255ae 0 15%,#6156ae 0 16%,#5f57ae 0 17%,#5e58ae 0 18%,#5d59ae 0 19%,#5d5aaf 0 20%,#5c5baf 0 21%,#5c5caf 0 22%,#5b5caf 0 23%,#5b5daf 0 25%,#5b5eaf 0 26%,#5a5eaf 0 32%,#5b5eaf 0 33%,#5b5daf 0 38%,#5b5caf 0 41%,#5c5caf 0 44%,#5c5baf 0 47%,#5c5aaf 0 48%,#5d5aaf 0 49%,#5d5aae 0 50%,#5d59ae 0 52%,#5e58ae 0 54%,#5f58ae 0 55%,#5f57ae 0 56%,#6057ae 0 57%,#6056ae 0 58%,#6156ae 0 59%,#6255ae 0 61%,#6354ae 0 63%,#6454ae 0 64%,#6453ae 0 65%,#6553ae 0 67%,#6652ae 0 71%,#6752ae 0 73%,#6751ae 0 78%,#6752ae 0)"></i><i style="left:470.96px;width:5.71px;background:linear-gradient(#734aaf 0 1%,#724aaf 0 2%,#724baf 0 3%,#714baf 0 4%,#704bae 0 5%,#6f4bae 0 6%,#6e4cae 0 7%,#6d4dae 0 8%,#6c4eae 0 9%,#6a4fae 0 10%,#6850ae 0 11%,#6751ae 0 12%,#6553ae 0 13%,#6454ae 0 14%,#6255ae 0 15%,#6156ae 0 16%,#5f57ae 0 17%,#5e58ae 0 18%,#5d59ae 0 19%,#5d5aae 0 20%,#5c5baf 0 22%,#5b5caf 0 23%,#5b5daf 0 27%,#5b5eaf 0 30%,#5b5daf 0 36%,#5b5caf 0 40%,#5c5caf 0 43%,#5c5baf 0 47%,#5d5aaf 0 48%,#5d5aae 0 50%,#5d59ae 0 51%,#5e59ae 0 52%,#5e58ae 0 54%,#5f57ae 0 56%,#6057ae 0 57%,#6156ae 0 59%,#6255ae 0 61%,#6354ae 0 63%,#6454ae 0 64%,#6453ae 0 65%,#6553ae 0 67%,#6652ae 0 70%,#6752ae 0 71%,#6751ae 0)"></i><i style="left:476.06px;width:5.71px;background:linear-gradient(#734aaf 0 1%,#724aaf 0 2%,#724baf 0 3%,#714baf 0 4%,#704bae 0 5%,#6f4bae 0 6%,#6e4cae 0 7%,#6d4dae 0 8%,#6c4eae 0 9%,#6a4fae 0 10%,#6850ae 0 11%,#6751ae 0 12%,#6553ae 0 13%,#6454ae 0 14%,#6255ae 0 15%,#6156ae 0 16%,#6057ae 0 17%,#5e58ae 0 18%,#5e59ae 0 19%,#5d5aae 0 20%,#5c5aaf 0 21%,#5c5baf 0 22%,#5c5caf 0 23%,#5b5caf 0 24%,#5b5daf 0 34%,#5b5caf 0 38%,#5c5caf 0 41%,#5c5baf 0 46%,#5c5aaf 0 47%,#5d5aaf 0 48%,#5d5aae 0 49%,#5d59ae 0 51%,#5e59ae 0 52%,#5e58ae 0 54%,#5f57ae 0 56%,#6056ae 0 57%,#6156ae 0 59%,#6255ae 0 61%,#6354ae 0 62%,#6454ae 0 63%,#6453ae 0 64%,#6553ae 0 66%,#6652ae 0 69%,#6752ae 0 70%,#6751ae 0)"></i><i style="left:481.17px;width:5.71px;background:linear-gradient(#734aaf 0 1%,#724aaf 0 2%,#724baf 0 3%,#714baf 0 4%,#704bae 0 5%,#6f4cae 0 6%,#6e4cae 0 7%,#6d4dae 0 8%,#6c4eae 0 9%,#6a4fae 0 10%,#6850ae 0 11%,#6751ae 0 12%,#6553ae 0 13%,#6454ae 0 14%,#6255ae 0 15%,#6156ae 0 16%,#6057ae 0 17%,#5f58ae 0 18%,#5e58ae 0 19%,#5d59ae 0 20%,#5d5aaf 0 21%,#5c5baf 0 23%,#5c5caf 0 24%,#5b5caf 0 25%,#5b5daf 0 32%,#5b5caf 0 36%,#5c5caf 0 40%,#5c5baf 0 46%,#5d5aaf 0 48%,#5d5aae 0 49%,#5d59ae 0 51%,#5e59ae 0 52%,#5e58ae 0 54%,#5f57ae 0 55%,#6057ae 0 56%,#6056ae 0 57%,#6156ae 0 58%,#6155ae 0 59%,#6255ae 0 60%,#6355ae 0 61%,#6354ae 0 62%,#6454ae 0 63%,#6453ae 0 64%,#6553ae 0 66%,#6652ae 0 69%,#6751ae 0)"></i><i style="left:486.28px;width:5.71px;background:linear-gradient(#734aaf 0 1%,#724aaf 0 2%,#724baf 0 3%,#714baf 0 4%,#704bae 0 5%,#6f4cae 0 6%,#6e4cae 0 7%,#6d4dae 0 8%,#6c4eae 0 9%,#6a4fae 0 10%,#6850ae 0 11%,#6751ae 0 12%,#6552ae 0 13%,#6454ae 0 14%,#6355ae 0 15%,#6156ae 0 16%,#6057ae 0 17%,#5f57ae 0 18%,#5e58ae 0 19%,#5d59ae 0 20%,#5d5aae 0 21%,#5c5baf 0 23%,#5c5caf 0 24%,#5b5caf 0 27%,#5b5daf 0 30%,#5b5caf 0 34%,#5c5caf 0 37%,#5c5baf 0 45%,#5d5aaf 0 47%,#5d5aae 0 49%,#5d59ae 0 51%,#5e58ae 0 53%,#5f58ae 0 54%,#5f57ae 0 55%,#6057ae 0 56%,#6056ae 0 57%,#6156ae 0 58%,#6155ae 0 59%,#6255ae 0 60%,#6354ae 0 62%,#6454ae 0 63%,#6453ae 0 64%,#6553ae 0 65%,#6552ae 0 66%,#6652ae 0 68%,#6752ae 0 69%,#6751ae 0 73%,#6851ae 0 77%,#6751ae 0)"></i><i style="left:491.38px;width:5.71px;background:linear-gradient(#734aaf 0 1%,#724aaf 0 2%,#724baf 0 3%,#714baf 0 4%,#704bae 0 5%,#6f4cae 0 6%,#6e4cae 0 7%,#6d4dae 0 8%,#6c4eae 0 9%,#6a4fae 0 10%,#6850ae 0 11%,#6751ae 0 12%,#6552ae 0 13%,#6453ae 0 14%,#6355ae 0 15%,#6155ae 0 16%,#6056ae 0 17%,#5f57ae 0 18%,#5e58ae 0 19%,#5d59ae 0 20%,#5d5aae 0 21%,#5d5aaf 0 22%,#5c5baf 0 24%,#5c5caf 0 26%,#5b5caf 0 31%,#5c5caf 0 35%,#5c5baf 0 44%,#5d5aaf 0 46%,#5d5aae 0 48%,#5d59ae 0 50%,#5e59ae 0 51%,#5e58ae 0 53%,#5f58ae 0 54%,#5f57ae 0 55%,#6057ae 0 56%,#6056ae 0 57%,#6156ae 0 58%,#6255ae 0 60%,#6354ae 0 62%,#6454ae 0 63%,#6453ae 0 64%,#6553ae 0 65%,#6552ae 0 66%,#6652ae 0 68%,#6751ae 0 72%,#6851ae 0)"></i><i style="left:496.49px;width:5.71px;background:linear-gradient(#734aaf 0 1%,#724aaf 0 2%,#724baf 0 3%,#714baf 0 4%,#704bae 0 5%,#6f4cae 0 6%,#6e4cae 0 7%,#6d4dae 0 8%,#6c4eae 0 9%,#6a4fae 0 10%,#6950ae 0 11%,#6751ae 0 12%,#6652ae 0 13%,#6453ae 0 14%,#6354ae 0 15%,#6255ae 0 16%,#6056ae 0 17%,#5f57ae 0 18%,#5e58ae 0 19%,#5e59ae 0 20%,#5d59ae 0 21%,#5d5aaf 0 22%,#5c5baf 0 25%,#5c5caf 0 32%,#5c5baf 0 42%,#5c5aaf 0 43%,#5d5aaf 0 45%,#5d5aae 0 48%,#5d59ae 0 50%,#5e59ae 0 51%,#5e58ae 0 53%,#5f57ae 0 55%,#6057ae 0 56%,#6056ae 0 57%,#6156ae 0 58%,#6255ae 0 60%,#6354ae 0 62%,#6453ae 0 63%,#6553ae 0 65%,#6652ae 0 68%,#6751ae 0 71%,#6851ae 0)"></i><i style="left:501.59px;width:5.71px;background:linear-gradient(#734aaf 0 1%,#724aaf 0 2%,#724baf 0 3%,#714baf 0 4%,#704bae 0 5%,#6f4cae 0 6%,#6e4cae 0 7%,#6d4dae 0 8%,#6c4eae 0 9%,#6a4fae 0 10%,#6950ae 0 11%,#6751ae 0 12%,#6652ae 0 13%,#6453ae 0 14%,#6354ae 0 15%,#6255ae 0 16%,#6156ae 0 17%,#5f57ae 0 18%,#5e58ae 0 20%,#5d59ae 0 21%,#5d5aae 0 22%,#5d5aaf 0 23%,#5c5baf 0 38%,#5c5aaf 0 40%,#5d5aaf 0 44%,#5d5aae 0 47%,#5d59ae 0 50%,#5e59ae 0 51%,#5e58ae 0 53%,#5f57ae 0 55%,#6057ae 0 56%,#6156ae 0 58%,#6255ae 0 60%,#6354ae 0 61%,#6454ae 0 62%,#6453ae 0 63%,#6553ae 0 65%,#6652ae 0 67%,#6752ae 0 68%,#6751ae 0 70%,#6851ae 0 73%,#6850ae 0 77%,#6851ae 0)"></i></div>
<svg width="685" height="414" viewBox="0 0 685 414">
<defs><clipPath id="pc"><rect x="67.3" y="26" width="507" height="328"/></clipPath>
<linearGradient id="cb" x1="0" y1="0" x2="0" y2="1"><stop offset="0.0000" stop-color="#dc2c20"/><stop offset="0.0208" stop-color="#de301c"/><stop offset="0.0417" stop-color="#e03418"/><stop offset="0.0625" stop-color="#e23914"/><stop offset="0.0833" stop-color="#e43f11"/><stop offset="0.1042" stop-color="#e74c19"/><stop offset="0.1250" stop-color="#eb5a24"/><stop offset="0.1458" stop-color="#ef692b"/><stop offset="0.1667" stop-color="#f47830"/><stop offset="0.1875" stop-color="#f68438"/><stop offset="0.2083" stop-color="#f89240"/><stop offset="0.2292" stop-color="#fa9f4b"/><stop offset="0.2500" stop-color="#fbad56"/><stop offset="0.2708" stop-color="#f7bc5e"/><stop offset="0.2917" stop-color="#f2ca65"/><stop offset="0.3125" stop-color="#eeda6e"/><stop offset="0.3333" stop-color="#ecea78"/><stop offset="0.3542" stop-color="#e7ec80"/><stop offset="0.3750" stop-color="#e1ee86"/><stop offset="0.3958" stop-color="#d8ed8b"/><stop offset="0.4167" stop-color="#d0ec90"/><stop offset="0.4375" stop-color="#c8eb94"/><stop offset="0.4583" stop-color="#c0ea98"/><stop offset="0.4792" stop-color="#b8e99c"/><stop offset="0.5000" stop-color="#b0e8a0"/><stop offset="0.5208" stop-color="#aae7aa"/><stop offset="0.5417" stop-color="#a5e5b4"/><stop offset="0.5625" stop-color="#9fe4bd"/><stop offset="0.5833" stop-color="#97e2c5"/><stop offset="0.6042" stop-color="#90e0cc"/><stop offset="0.6250" stop-color="#88dcd3"/><stop offset="0.6458" stop-color="#80d8d9"/><stop offset="0.6667" stop-color="#78d4e0"/><stop offset="0.6875" stop-color="#6ecce0"/><stop offset="0.7083" stop-color="#64c4e0"/><stop offset="0.7292" stop-color="#5ebade"/><stop offset="0.7500" stop-color="#58b0dc"/><stop offset="0.7708" stop-color="#56a8d8"/><stop offset="0.7917" stop-color="#54a0d4"/><stop offset="0.8125" stop-color="#5290cc"/><stop offset="0.8333" stop-color="#5080c4"/><stop offset="0.8542" stop-color="#5274bb"/><stop offset="0.8750" stop-color="#5468b2"/><stop offset="0.8958" stop-color="#5960b0"/><stop offset="0.9167" stop-color="#5e58ae"/><stop offset="0.9375" stop-color="#6652ae"/><stop offset="0.9583" stop-color="#6e4cae"/><stop offset="0.9792" stop-color="#734aaf"/><stop offset="1.0000" stop-color="#7848b0"/></linearGradient></defs>
<g clip-path="url(#pc)">
<polyline points="67.3,26.2 68.1,27.0 69.5,31.5 71.6,38.6 73.5,40.6 75.5,41.4 78.0,41.3 83.9,40.0 97.0,36.1 110.0,34.0 122.0,32.5 138.8,30.1 157.7,27.9 176.5,26.4 186.0,25.9" fill="none" stroke="#7cc81c" stroke-width="2.0" stroke-dasharray="4 2.4" stroke-linejoin="round"/>
<polyline points="67.3,59.7 71.0,59.9 74.0,59.3 77.5,57.9 81.3,56.3 91.0,52.9 100.6,50.5 111.0,47.6 125.7,44.5 140.3,42.6 160.0,40.4 176.9,39.0 198.8,37.2 235.0,35.3 255.0,33.9 293.8,32.4 350.0,30.4 388.8,29.5 445.0,28.3 480.0,28.0 523.8,27.3 574.0,26.6" fill="none" stroke="#e0302c" stroke-width="1.7" stroke-linejoin="round"/>
<polyline points="67.3,78.5 70.0,75.8 74.6,72.2 76.5,70.8 81.9,67.7 86.2,65.5 95.8,62.1 105.5,59.7 122.0,57.0 140.3,55.0 160.0,53.0 184.2,50.9 213.4,48.8 255.0,46.6 305.5,45.1 340.8,43.8 350.0,43.6 445.0,42.2 480.0,41.9 574.0,40.9" fill="none" stroke="#8e8e8e" stroke-width="1.6" stroke-linejoin="round"/>
<polyline points="67.3,90.6 68.3,89.6 76.5,81.9 86.2,76.1 95.8,72.9 105.5,71.0 122.0,68.4 140.3,65.6 155.0,63.8 184.2,61.6 213.4,59.7 255.0,58.4 293.8,57.2 350.0,56.0 377.8,55.8 412.9,55.3 445.0,55.3 480.0,55.2 574.0,55.5" fill="none" stroke="#f04c1c" stroke-width="1.7" stroke-dasharray="6 2 1 2 1 2.5" stroke-linejoin="round"/>
<polyline points="67.3,106.0 71.7,102.8 74.6,98.5 83.4,92.3 95.0,88.4 108.2,85.0 121.3,82.6 133.0,80.5 144.7,79.5 155.0,78.5 184.2,76.4 213.4,75.2 255.0,74.6 293.8,74.5 344.9,74.7 388.8,75.5 430.0,75.8 443.0,77.0 465.0,78.2 488.0,79.3 517.6,81.9 546.0,84.7 574.0,88.5" fill="none" stroke="#000000" stroke-width="1.7" stroke-dasharray="2.4 1.8 2.4 5.9" stroke-linejoin="round"/>
<polyline points="574.0,195.5 548.5,199.3 525.1,202.0 500.6,205.6 478.0,209.2 455.0,212.6 440.0,214.5 416.0,219.8 400.6,223.5 391.5,227.8 385.0,232.5 382.3,236.7 380.9,243.0 380.5,250.0 380.2,259.3 380.1,300.0 380.1,354.0" fill="none" stroke="#000000" stroke-width="1.7" stroke-dasharray="2.4 1.8 2.4 5.9" stroke-linejoin="round"/>
<polyline points="67.3,119.5 71.7,112.3 79.0,105.8 89.2,100.7 103.8,96.7 118.4,94.1 133.0,92.6 147.6,91.6 160.0,90.9 198.8,89.9 255.0,90.0 279.2,91.4 308.4,93.2 330.3,95.0 346.4,97.2 359.6,99.1 374.2,102.7 388.8,107.8 400.5,114.4 406.3,120.3 410.8,128.2 414.5,140.0 417.4,150.9 418.8,159.6 418.1,168.4 416.6,171.7 409.3,181.9 397.7,189.2 380.1,194.5 356.8,199.4 327.6,205.3 298.4,211.1 278.0,216.1 263.4,220.7 254.6,227.2 250.2,235.9 248.8,247.6 248.8,259.3 248.7,300.0 248.7,354.0" fill="none" stroke="#f2e21c" stroke-width="2.0" stroke-dasharray="3.6 2.6 1 3.1" stroke-linejoin="round"/>
<polyline points="67.3,236.0 69.5,240.4 69.8,260.0 69.8,300.0 69.8,354.0" fill="none" stroke="#f2e21c" stroke-width="2.0" stroke-dasharray="3.6 2.6 1 3.1" stroke-linejoin="round"/>
<polyline points="67.3,135.0 74.6,127.3 79.0,121.1 89.2,116.7 103.8,113.1 118.4,110.9 133.0,109.9 147.6,109.7 160.0,109.9 184.2,111.8 206.1,114.7 220.7,118.1 236.9,125.0 244.2,131.0 250.2,140.7 253.5,150.0 255.0,161.3 255.3,173.3 250.0,183.0 240.5,191.6 230.3,196.4 215.7,202.0 201.1,206.3 186.5,210.8 171.9,216.6 161.7,222.4 157.3,227.6 155.1,233.4 154.6,241.9 154.2,260.0 154.2,300.0 154.2,354.0" fill="none" stroke="#a6e2f0" stroke-width="1.8" stroke-dasharray="8 2.2 1 2.2" stroke-linejoin="round"/>
<polyline points="67.3,227.0 71.7,231.7 73.9,241.9 74.2,260.0 74.2,300.0 74.2,354.0" fill="none" stroke="#a6e2f0" stroke-width="1.8" stroke-dasharray="8 2.2 1 2.2" stroke-linejoin="round"/>
<polyline points="67.3,152.0 74.6,141.9 81.9,136.8 96.5,131.7 111.1,129.9 125.7,130.5 140.3,133.5 150.5,137.0 159.3,143.6 164.5,151.2 168.0,160.0 169.5,168.0 168.9,174.3 167.5,182.3 161.7,191.1 150.0,199.1 147.6,200.0 133.0,206.5 121.3,215.3 111.1,224.0 106.7,230.2 97.2,235.3 89.2,231.7 77.5,225.0 67.3,219.5" fill="none" stroke="#c83cb4" stroke-width="1.8" stroke-dasharray="1.1 1.4" stroke-linejoin="round"/>
<polyline points="67.3,165.5 68.3,164.5 74.6,155.0 83.4,150.7 95.0,148.9 106.7,150.7 115.5,155.0 121.3,162.3 124.0,171.1 124.2,179.4 121.3,189.0 115.5,197.7 106.7,205.0 96.5,209.7 84.8,213.1 76.1,214.5 68.3,212.3 67.3,211.8" fill="none" stroke="#3c40a8" stroke-width="2.2" stroke-dasharray="3 2.3" stroke-linejoin="round"/>
<polyline points="75.5,180.9 81.3,178.6 85.0,180.5 87.0,183.8 87.6,188.7 86.0,192.5 83.2,196.4 80.0,199.3 76.4,201.2 73.5,199.0 72.0,195.4 71.8,191.5 72.0,188.7 73.3,184.2 75.5,180.9" fill="none" stroke="#7cc81c" stroke-width="2.2" stroke-dasharray="4 2.4" stroke-linejoin="round"/>
<polyline points="76.0,26.2 85.0,26.8 94.0,26.2" fill="none" stroke="#3a4aa8" stroke-width="2.0" stroke-dasharray="2.2 2.8" stroke-linejoin="round"/>
</g>
<rect x="200.3" y="28.0" width="34.7" height="17.1" fill="#fff"/>
<text x="218.2" y="42.4" text-anchor="middle" style="letter-spacing:0.3px">250</text>
<rect x="306.2" y="36.4" width="34.6" height="17.2" fill="#fff"/>
<text x="324.1" y="51.2" text-anchor="middle" style="letter-spacing:0.3px">400</text>
<rect x="377.8" y="48.0" width="35.1" height="17.3" fill="#fff"/>
<text x="396.0" y="62.9" text-anchor="middle" style="letter-spacing:0.3px">600</text>
<rect x="443.6" y="72.0" width="44.4" height="18.2" fill="#fff"/>
<text x="466.4" y="87.8" text-anchor="middle" style="letter-spacing:0.3px">1000</text>
<rect x="395.8" y="130.9" width="41.7" height="18.5" fill="#fff"/>
<text x="417.2" y="147.0" text-anchor="middle" style="letter-spacing:0.3px">1500</text>
<rect x="231.5" y="142.3" width="42.0" height="18.6" fill="#fff"/>
<text x="253.1" y="158.4" text-anchor="middle" style="letter-spacing:0.3px">2500</text>
<rect x="145.6" y="152.4" width="41.7" height="21.5" fill="#fff"/>
<text x="167.0" y="170.5" text-anchor="middle" style="letter-spacing:0.3px">4000</text>
<rect x="455.0" y="201.4" width="45.6" height="18.2" fill="#fff"/>
<text x="478.4" y="215.9" text-anchor="middle" style="letter-spacing:0.3px">1000</text>
<rect x="63.45" y="25.55" width="510.8" height="328.7" fill="none" stroke="#000" stroke-width="1.5"/>
<path d="M63.4 25.90h8.5M574.3 25.90h-8.5M63.4 97.10h8.5M574.3 97.10h-8.5M63.4 168.30h8.5M574.3 168.30h-8.5M63.4 239.50h8.5M574.3 239.50h-8.5M63.4 310.70h8.5M574.3 310.70h-8.5M63.4 332.13h4.3M574.3 332.13h-4.3M63.4 317.60h4.3M574.3 317.60h-4.3M63.4 289.27h4.3M574.3 289.27h-4.3M63.4 260.93h4.3M574.3 260.93h-4.3M63.4 246.40h4.3M574.3 246.40h-4.3M63.4 218.07h4.3M574.3 218.07h-4.3M63.4 189.73h4.3M574.3 189.73h-4.3M63.4 175.20h4.3M574.3 175.20h-4.3M63.4 146.87h4.3M574.3 146.87h-4.3M63.4 118.53h4.3M574.3 118.53h-4.3M63.4 104.00h4.3M574.3 104.00h-4.3M63.4 75.67h4.3M574.3 75.67h-4.3M63.4 47.33h4.3M574.3 47.33h-4.3M63.4 32.80h4.3M574.3 32.80h-4.3M165.60 354.2v-7.9M165.60 25.5v8.4M267.80 354.2v-7.9M267.80 25.5v8.4M370.00 354.2v-7.9M370.00 25.5v8.4M472.20 354.2v-7.9M472.20 25.5v8.4" stroke="#000" stroke-width="1.4" fill="none"/>
<rect x="597.2" y="104.0" width="30.1" height="181.0" fill="url(#cb)" stroke="#000" stroke-width="1.4"/>
<path d="M597.2 254.83h6.5M627.3 254.83h-6.5M597.2 224.67h6.5M627.3 224.67h-6.5M597.2 194.50h6.5M627.3 194.50h-6.5M597.2 164.33h6.5M627.3 164.33h-6.5M597.2 134.17h6.5M627.3 134.17h-6.5" stroke="#000" stroke-width="1.5" fill="none"/>
<text x="116.4" y="17.4" style="letter-spacing:0.2px">Proton stopping power in Hydrogen, &#961; = 1 mg/cm<tspan dy="-4.2" style="font-size:16.5px">3</tspan></text>
<text x="57.8" y="30.5" text-anchor="end">1000</text>
<text x="55.6" y="101.6" text-anchor="end">100</text>
<text x="53.4" y="173.1" text-anchor="end">10</text>
<text x="50.4" y="244.6" text-anchor="end">1</text>
<text x="53.7" y="316.2" text-anchor="end">0.1</text>
<text x="67.35" y="378.1" text-anchor="middle">0</text>
<text x="171.3" y="378.1" text-anchor="middle">0.2</text>
<text x="273.5" y="378.1" text-anchor="middle">0.4</text>
<text x="375.5" y="378.1" text-anchor="middle">0.6</text>
<text x="477.6" y="378.1" text-anchor="middle">0.8</text>
<text x="578.3" y="378.1" text-anchor="middle">1</text>
<text x="234" y="409.7" style="letter-spacing:0.26px">Proton energy (MeV)</text>
<text transform="translate(13.7 247.9) rotate(-90)" style="letter-spacing:0.26px">Temperature (eV)</text>
<g style="font-size:14px">
<text x="594.3" y="81.6" style="font-size:16px;letter-spacing:0.25px">MeV cm<tspan style="font-size:12.5px" dy="-6">2</tspan><tspan dy="6">/g</tspan></text>
<text x="641" y="289.5" style="font-size:16px">0</text>
<text x="641" y="259.3" style="font-size:16px">2000</text>
<text x="641" y="229.2" style="font-size:16px">4000</text>
<text x="641" y="199.0" style="font-size:16px">6000</text>
<text x="641" y="168.8" style="font-size:16px">8000</text>
<text x="641" y="138.7" style="font-size:16px">10000</text>
<text x="641" y="108.5" style="font-size:16px">12000</text>
</g>
</svg>
</body></html>
